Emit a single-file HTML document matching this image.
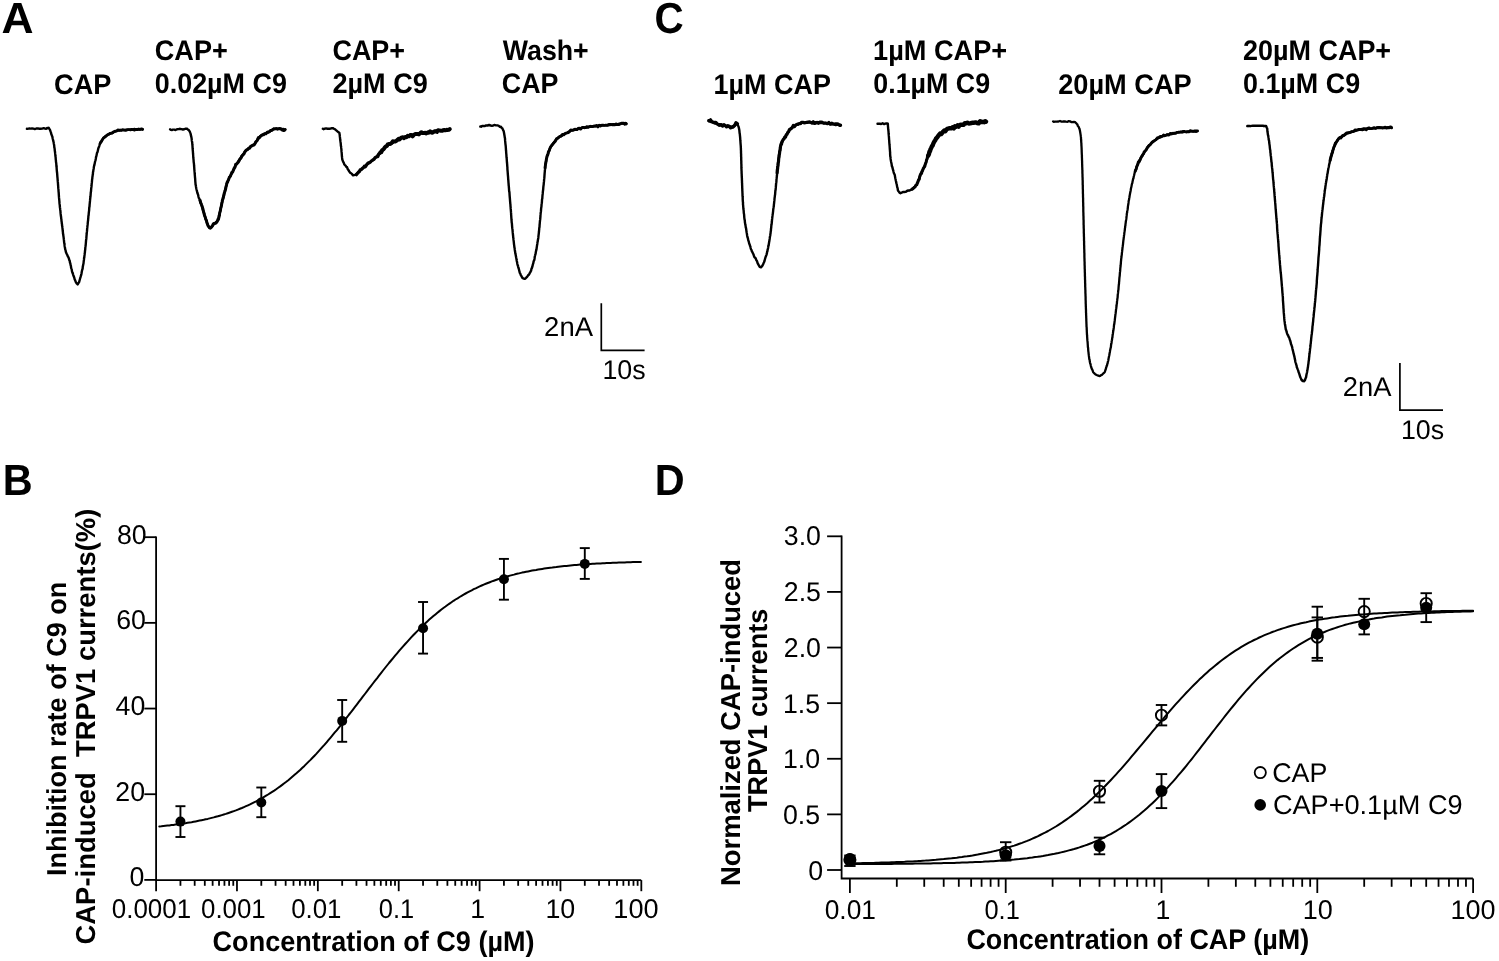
<!DOCTYPE html><html><head><meta charset="utf-8"><title>figure</title><style>
html,body{margin:0;padding:0;background:#fff;overflow:hidden;}
svg{display:block;will-change:transform;}
text{font-family:"Liberation Sans",sans-serif;fill:#000;text-rendering:geometricPrecision;}
</style></head><body>
<svg width="1499" height="961" viewBox="0 0 1499 961">
<rect width="1499" height="961" fill="#fff"/>
<polyline points="26.9,128.8 27.6,128.9 28.5,128.7 29.5,128.5 30.7,128.6 32.0,128.4 33.4,128.7 34.8,129.1 36.3,128.5 37.8,128.4 39.3,128.7 40.8,128.7 42.2,128.6 43.6,128.2 44.9,128.5 46.1,128.7 47.1,128.0 48.0,128.3 48.7,127.8 49.2,128.6 49.8,129.4 50.6,131.7 50.9,132.3 51.2,133.7 51.6,134.7 51.9,135.8 52.3,136.4 52.6,138.3 53.0,139.8 53.3,141.2 53.6,142.1 53.8,143.5 54.0,144.5 54.2,145.6 54.3,147.3 54.5,147.9 54.7,149.4 54.8,150.9 55.0,151.7 55.1,153.2 55.3,154.6 55.4,156.0 55.6,157.1 55.7,158.6 55.8,160.0 55.9,160.2 56.0,162.1 56.2,163.0 56.3,164.0 56.4,166.0 56.5,166.8 56.6,167.4 56.7,169.1 56.8,170.5 56.9,171.5 57.1,173.0 57.2,174.1 57.3,175.6 57.4,177.1 57.5,177.7 57.6,179.3 57.7,180.3 57.8,181.7 57.9,182.5 58.0,184.0 58.1,185.4 58.2,187.0 58.3,188.4 58.4,188.9 58.5,190.4 58.6,192.1 58.7,192.6 58.8,194.4 58.9,195.8 59.0,197.4 59.1,198.5 59.2,199.4 59.3,200.5 59.4,201.7 59.5,203.4 59.6,204.2 59.8,205.7 59.9,207.2 60.1,208.4 60.2,209.7 60.4,210.7 60.5,212.3 60.6,213.4 60.8,215.1 60.9,216.1 61.1,217.1 61.2,218.5 61.4,219.4 61.5,221.0 61.7,222.0 61.8,223.4 62.0,224.2 62.1,225.9 62.3,226.5 62.4,227.7 62.6,229.4 62.7,230.5 62.9,232.0 63.0,233.8 63.2,234.0 63.3,235.3 63.5,236.7 63.7,238.1 63.8,239.2 64.0,240.6 64.1,242.1 64.3,243.4 64.5,244.2 64.6,245.7 64.8,247.0 65.0,247.8 65.2,249.4 65.5,250.1 65.9,252.1 66.4,253.2 66.9,254.3 67.4,255.3 67.9,256.6 68.4,257.2 68.9,258.7 69.4,260.4 69.7,260.8 70.0,262.8 70.3,263.2 70.6,265.1 70.9,265.9 71.1,267.6 71.4,268.6 71.7,269.3 72.0,271.4 72.4,272.6 72.8,273.4 73.2,274.8 73.7,276.3 74.2,277.5 74.7,279.5 75.2,280.4 75.7,281.8 76.1,282.5 76.6,283.4 77.0,283.6 77.7,284.4 78.4,283.2 79.1,282.1 79.7,280.0 80.3,277.8 80.6,276.9 80.9,275.8 81.2,274.9 81.5,273.5 81.7,272.3 82.0,270.6 82.3,269.5 82.6,268.8 82.8,266.7 83.1,265.2 83.3,264.3 83.5,263.5 83.7,261.5 83.8,260.7 84.0,259.4 84.1,257.9 84.3,257.5 84.4,256.1 84.6,254.9 84.7,253.4 84.9,252.5 85.0,250.9 85.2,249.7 85.3,248.1 85.4,246.9 85.5,246.5 85.7,244.8 85.8,243.8 85.9,242.5 86.0,241.1 86.1,239.9 86.3,238.9 86.4,237.4 86.5,236.1 86.6,234.9 86.7,234.0 86.8,232.6 87.0,231.2 87.1,229.7 87.2,228.2 87.3,227.7 87.4,226.4 87.6,224.9 87.7,223.8 87.8,222.7 87.9,221.5 88.1,220.3 88.2,218.6 88.3,218.0 88.4,215.9 88.6,215.3 88.7,214.0 88.8,212.9 88.9,211.9 89.1,210.6 89.2,208.6 89.3,207.2 89.5,206.7 89.6,204.9 89.7,203.9 89.8,202.9 90.0,200.9 90.1,199.5 90.2,199.0 90.3,197.6 90.5,196.3 90.6,195.2 90.7,193.7 90.8,192.2 91.0,191.4 91.1,190.0 91.2,188.6 91.3,187.9 91.5,186.4 91.6,185.2 91.7,183.5 91.9,182.2 92.0,180.8 92.1,179.6 92.3,178.6 92.4,177.0 92.6,176.1 92.7,174.9 92.9,174.2 93.0,172.0 93.2,171.6 93.4,169.9 93.7,168.5 93.9,166.8 94.1,165.9 94.4,165.0 94.7,163.5 94.9,162.4 95.2,161.1 95.5,160.3 95.8,158.7 96.1,156.8 96.4,156.1 96.7,154.5 97.0,152.9 97.3,152.5 97.6,151.8 98.0,150.1 98.3,148.5 98.7,147.4 99.0,146.9 99.4,145.6 99.7,144.5 100.1,143.6 100.7,142.2 101.4,141.3 102.1,140.1 102.8,139.1 103.5,137.9 104.2,137.6 105.0,136.5 106.1,136.1 107.3,134.7 108.6,134.4 109.8,133.9 111.0,132.9 112.1,133.2 113.2,132.6 114.3,131.5 115.5,131.4 116.9,130.9 117.9,129.8 119.0,130.5 120.1,130.3 121.2,130.2 122.5,129.8 123.8,129.9 125.3,129.8 126.8,130.2 127.9,129.8 129.1,129.7 130.4,130.1 131.7,129.4 133.2,129.4 134.6,128.9 136.0,129.9 137.4,129.7 138.7,129.6 139.9,129.5 141.0,129.3 141.9,129.3 142.6,129.1" fill="none" stroke="#000" stroke-width="2.4" stroke-linejoin="round" stroke-linecap="round"/>
<polyline points="100.1,143.5 100.7,142.2 101.4,141.5 102.1,140.1 102.8,139.0 103.5,138.0 104.2,137.3 105.0,137.2 106.1,135.9 107.3,135.1 108.6,134.3 109.8,133.5 111.0,133.3 112.1,133.0 113.2,132.0 114.3,131.6 115.5,131.1 116.9,130.8 117.9,130.1 119.0,130.4 120.1,130.0 121.2,130.4 122.5,129.8 123.8,130.2 125.3,130.4 126.8,129.7 127.9,129.6 129.1,129.7 130.4,129.6 131.7,129.3 133.2,129.7 134.6,130.1 136.0,129.3 137.4,129.3 138.7,129.0 139.9,129.4 141.0,128.9 141.9,128.9 142.6,129.6" fill="none" stroke="#000" stroke-width="2.8" stroke-linejoin="round" stroke-linecap="round"/>
<polyline points="170.1,129.3 170.8,129.9 171.8,130.0 172.9,129.6 174.2,129.6 175.6,130.0 177.0,129.3 178.5,129.1 180.1,128.8 181.5,129.1 182.9,129.5 184.2,129.3 185.3,128.7 186.3,128.7 187.0,128.7 187.8,129.5 188.8,130.1 189.8,131.7 190.1,132.5 190.5,133.3 190.7,134.4 191.0,135.6 191.3,136.8 191.6,138.4 191.8,140.4 191.9,141.0 192.1,141.9 192.2,142.5 192.3,144.3 192.4,144.8 192.5,146.3 192.6,148.2 192.7,149.5 192.8,150.6 192.9,151.5 193.0,153.2 193.1,154.4 193.2,156.0 193.3,157.7 193.4,158.4 193.5,159.3 193.6,160.5 193.7,162.1 193.9,163.3 194.0,164.3 194.1,166.0 194.2,166.9 194.3,168.8 194.4,170.0 194.5,171.2 194.6,172.1 194.7,173.7 194.8,174.8 194.9,176.0 195.0,177.3 195.1,178.2 195.2,179.5 195.3,181.3 195.4,182.3 195.5,183.5 195.6,184.9 195.8,185.2 196.0,186.9 196.3,188.5 196.6,189.8 196.9,190.8 197.2,192.4 197.5,193.3 197.8,194.0 198.2,195.2 198.5,196.8 198.9,198.0 199.3,198.5 199.8,200.6 200.2,201.6 200.6,202.9 201.1,203.6 201.5,204.7 201.9,205.7 202.3,207.9 202.6,208.3 202.9,209.9 203.2,210.4 203.5,211.8 203.8,212.4 204.2,214.1 204.6,215.8 205.0,216.3 205.4,218.3 205.9,219.6 206.4,220.7 206.9,222.3 207.4,223.7 207.9,225.1 208.4,226.1 208.9,226.9 209.4,227.6 210.4,227.6 211.3,226.8 212.3,226.0 213.2,224.9 214.1,223.1 215.2,222.8 216.2,222.1 217.2,221.1 218.2,219.9 218.5,218.6 218.8,218.2 219.1,216.4 219.4,215.5 219.6,214.0 219.9,212.5 220.2,211.5 220.4,209.9 220.7,208.8 221.0,207.2 221.2,205.6 221.5,204.7 221.8,203.4 222.1,202.4 222.4,200.5 222.8,199.5 223.1,197.7 223.4,197.2 223.7,195.4 224.0,194.0 224.3,193.4 224.6,192.6 224.9,190.7 225.3,189.5 225.6,188.3 225.9,186.9 226.2,186.2 226.5,184.7 226.8,183.7 227.2,183.0 227.6,181.5 228.1,180.6 228.7,179.0 229.3,177.8 229.9,176.4 230.5,176.4 231.1,174.6 231.7,173.7 232.3,172.4 232.8,171.3 233.3,170.1 233.9,169.6 234.5,167.5 235.1,166.2 235.7,165.2 236.3,164.1 237.0,163.7 237.7,162.6 238.4,161.1 239.1,159.9 239.8,159.2 240.5,158.7 241.2,156.5 242.0,156.3 242.7,154.8 243.4,154.3 244.1,152.6 244.9,151.8 245.7,150.4 246.6,149.6 247.5,149.5 248.5,148.6 249.6,147.5 250.6,146.6 251.7,145.6 252.8,145.3 253.8,144.6 254.7,143.8 255.6,142.8 256.4,141.3 257.1,140.5 257.7,139.4 258.4,138.7 259.2,137.9 260.1,136.4 261.1,135.4 262.3,134.9 263.5,134.2 264.7,133.6 265.9,133.3 267.1,132.5 268.2,132.5 269.4,131.6 270.4,131.0 271.5,130.2 272.5,129.5 273.7,128.9 275.0,128.8 276.2,128.6 277.5,128.9 279.0,128.9 280.5,128.6 281.9,129.2 283.2,129.0 284.3,129.3 285.1,129.5" fill="none" stroke="#000" stroke-width="2.4" stroke-linejoin="round" stroke-linecap="round"/>
<polyline points="200.2,200.5 200.6,202.6 201.1,203.7 201.5,204.8 201.9,205.8 202.3,207.0 202.6,207.9 202.9,209.3 203.2,210.3 203.5,211.8 203.8,212.4 204.2,214.3 204.6,215.6 205.0,216.6 205.4,217.8 205.9,219.7 206.4,220.2 206.9,222.7 207.4,224.0 207.9,225.3 208.4,226.4 208.9,226.8 209.4,227.6 210.4,228.2 211.3,227.4 212.3,226.1 213.2,224.0 214.1,223.8 215.2,223.4 216.2,222.7 217.2,221.5 218.2,218.9 218.5,219.2 218.8,217.7 219.1,215.5 219.4,215.6 219.6,213.4 219.9,212.2 220.2,211.1 220.4,210.5 220.7,208.4 221.0,207.4 221.2,206.7 221.5,205.4 221.8,203.4 222.1,202.0 222.4,200.2 222.8,199.2 223.1,198.4 223.4,197.2 223.7,195.8 224.0,195.0 224.3,193.0 224.6,192.2 224.9,191.5 225.3,190.1 225.6,189.0 225.9,187.5 226.2,186.0 226.5,185.1 226.8,183.4 227.2,182.1 227.6,182.0 228.1,180.4 228.7,179.4 229.3,177.4 229.9,176.8 230.5,175.6 231.1,174.4 231.7,172.6 232.3,172.3 232.8,171.7 233.3,170.3 233.9,168.7 234.5,167.8 235.1,167.0 235.7,164.3 236.3,164.4 237.0,163.7 237.7,162.7 238.4,162.1 239.1,160.8 239.8,159.4 240.5,158.4 241.2,157.7 242.0,155.9 242.7,155.1 243.4,154.4 244.1,153.8 244.9,151.8 245.7,150.9 246.6,150.0 247.5,149.7 248.5,148.3 249.6,148.2 250.6,146.4 251.7,146.0 252.8,145.3 253.8,145.0 254.7,144.3 255.6,142.1 256.4,141.3 257.1,140.7 257.7,139.1 258.4,137.6 259.2,137.8 260.1,136.6 261.1,135.9 262.3,134.8 263.5,134.8 264.7,133.7 265.9,133.8 267.1,132.4 268.2,131.9 269.4,131.7 270.4,130.6 271.5,130.6 272.5,129.8 273.7,128.8 275.0,128.9 276.2,128.6 277.5,129.2 279.0,128.6 280.5,128.8 281.9,129.8 283.2,130.4 284.3,130.4 285.1,129.6" fill="none" stroke="#000" stroke-width="3.0" stroke-linejoin="round" stroke-linecap="round"/>
<polyline points="322.8,128.8 323.6,129.2 324.8,128.7 326.1,128.4 327.6,128.7 329.2,128.8 330.7,128.5 332.0,128.2 333.2,128.3 334.0,128.9 334.8,129.1 336.0,130.2 337.4,131.4 338.6,132.4 339.4,132.8 339.5,133.9 339.7,134.7 339.8,136.2 340.0,137.6 340.2,139.8 340.4,141.0 340.5,141.9 340.7,143.2 340.8,144.4 340.9,145.9 341.1,146.5 341.2,147.9 341.4,149.3 341.5,151.4 341.6,152.1 341.7,153.0 341.8,154.6 341.9,156.2 342.0,156.8 342.1,157.9 342.3,159.5 342.6,160.3 343.1,161.7 343.6,162.4 344.2,164.2 344.9,165.1 345.6,165.7 346.3,166.8 347.0,167.1 347.7,169.1 348.4,170.0 349.2,171.3 349.9,172.4 350.6,172.9 351.8,173.9 353.1,175.4 354.8,174.9 355.6,174.6 356.4,173.9 357.3,173.2 358.2,171.8 359.2,171.9 360.2,170.6 361.3,169.9 362.3,169.1 363.4,167.6 364.3,166.3 365.3,165.8 366.3,164.9 367.3,164.3 368.3,163.7 369.4,162.3 370.4,162.2 371.4,160.8 372.3,160.6 373.2,159.8 374.0,159.0 375.1,158.1 376.1,157.0 377.0,156.0 377.9,154.8 378.7,154.5 379.5,154.1 380.4,153.3 381.3,152.2 382.1,151.1 382.9,149.8 383.8,149.5 384.7,148.1 385.7,147.2 386.8,146.2 387.7,145.7 388.6,144.9 389.6,144.3 390.6,143.3 391.7,142.9 392.8,143.0 393.9,141.7 395.1,141.0 396.3,140.6 397.5,140.1 398.5,139.1 399.6,138.9 400.7,138.8 401.8,138.2 403.0,137.7 404.1,137.7 405.3,136.7 406.5,136.5 407.7,136.0 408.9,136.2 410.2,134.8 411.4,134.9 412.6,134.7 413.8,134.8 415.1,134.5 416.3,134.5 417.6,133.4 418.9,133.9 420.2,133.4 421.5,133.1 422.8,133.2 424.0,132.6 425.2,132.1 426.3,132.5 427.4,132.0 428.8,132.0 430.1,132.1 431.3,131.9 432.5,132.1 433.6,131.4 434.7,130.8 435.8,130.9 436.9,130.7 438.1,130.4 439.4,130.8 440.9,130.3 442.4,129.8 443.9,130.4 445.3,130.1 446.7,130.1 448.0,129.9 449.0,130.0 449.8,129.7" fill="none" stroke="#000" stroke-width="2.4" stroke-linejoin="round" stroke-linecap="round"/>
<polyline points="356.4,174.7 357.3,173.6 358.2,172.7 359.2,171.7 360.2,169.8 361.3,169.4 362.3,168.4 363.4,167.7 364.3,166.2 365.3,166.9 366.3,165.3 367.3,163.9 368.3,162.8 369.4,162.7 370.4,162.0 371.4,160.9 372.3,160.6 373.2,159.5 374.0,159.4 375.1,157.7 376.1,157.1 377.0,156.7 377.9,156.6 378.7,154.0 379.5,153.4" fill="none" stroke="#000" stroke-width="3.2" stroke-linejoin="round" stroke-linecap="round"/>
<polyline points="380.4,152.2 381.3,152.3 382.1,150.2 382.9,149.7 383.8,149.0 384.7,147.5 385.7,146.6 386.8,146.0 387.7,144.4 388.6,144.1 389.6,144.1 390.6,143.8 391.7,142.9 392.8,141.3 393.9,141.4 395.1,141.6 396.3,140.8 397.5,139.9 398.5,138.9 399.6,139.4 400.7,138.2 401.8,137.4 403.0,137.2 404.1,138.1 405.3,137.0 406.5,137.2 407.7,135.8 408.9,136.3 410.2,135.1 411.4,135.0 412.6,136.3 413.8,135.0 415.1,134.0 416.3,134.0 417.6,134.1 418.9,134.4 420.2,133.2 421.5,132.2 422.8,132.9 424.0,132.9 425.2,132.8 426.3,133.4 427.4,132.6 428.8,132.7 430.1,131.3 431.3,132.3 432.5,132.8 433.6,131.9 434.7,131.4 435.8,131.2 436.9,132.0 438.1,130.2 439.4,130.6 440.9,130.8 442.4,130.8 443.9,130.0 445.3,130.3 446.7,129.8 448.0,129.9 449.0,129.7 449.8,129.0" fill="none" stroke="#000" stroke-width="4.0" stroke-linejoin="round" stroke-linecap="round"/>
<polyline points="480.3,126.5 481.1,126.7 482.1,126.0 483.3,126.0 484.6,126.1 486.1,125.4 487.6,125.5 489.1,125.0 490.6,125.5 492.0,125.7 493.2,125.6 494.3,124.9 496.0,125.4 497.5,125.4 498.8,125.8 499.9,126.8 500.9,126.6 501.8,128.1 502.5,128.6 503.0,129.9 503.4,130.4 503.7,131.3 504.0,132.8 504.3,134.5 504.6,136.2 504.7,137.2 504.9,137.9 505.0,138.4 505.1,140.4 505.2,141.5 505.3,142.5 505.4,143.6 505.6,145.2 505.7,146.0 505.8,147.2 505.9,148.7 506.0,150.5 506.1,151.0 506.2,153.1 506.3,153.9 506.4,155.1 506.5,157.2 506.6,157.9 506.7,158.7 506.8,160.2 506.9,161.7 507.0,163.0 507.1,163.7 507.2,165.2 507.3,166.6 507.4,167.4 507.4,168.9 507.5,170.1 507.6,171.2 507.7,172.4 507.8,173.8 507.9,175.1 508.0,176.1 508.1,177.4 508.2,179.1 508.3,180.0 508.4,181.4 508.5,182.8 508.6,183.9 508.7,185.6 508.8,186.0 508.9,187.7 509.0,188.6 509.1,190.5 509.2,191.7 509.4,191.9 509.5,193.4 509.6,195.1 509.7,196.4 509.8,197.6 509.9,198.6 510.0,200.0 510.1,201.3 510.2,202.3 510.3,203.9 510.4,204.2 510.5,206.3 510.6,207.0 510.7,208.9 510.8,209.7 510.9,210.8 511.0,212.4 511.1,213.2 511.1,214.5 511.2,215.5 511.3,217.2 511.4,218.6 511.5,220.0 511.6,220.9 511.7,222.6 511.9,223.5 512.0,224.8 512.1,226.3 512.2,227.6 512.3,228.4 512.5,229.6 512.6,230.9 512.7,232.2 512.8,233.2 513.0,235.0 513.1,235.8 513.2,237.4 513.4,238.2 513.5,239.9 513.7,241.1 513.8,242.1 514.0,244.1 514.1,244.8 514.3,246.4 514.4,247.3 514.6,248.0 514.7,249.2 514.9,250.5 515.1,251.8 515.3,253.3 515.6,254.6 515.8,255.5 516.1,257.3 516.3,258.1 516.6,260.1 516.8,261.1 517.1,262.3 517.3,263.7 517.6,265.0 517.9,265.6 518.1,266.6 518.4,267.8 518.7,268.5 519.2,270.5 519.8,272.9 520.3,273.6 520.9,275.5 521.5,276.1 522.1,277.5 522.7,278.0 523.4,278.5 524.2,278.7 525.2,278.8 526.2,277.7 527.1,276.8 528.1,275.3 529.1,274.5 529.9,272.8 530.3,272.3 530.7,271.2 531.1,270.7 531.5,268.6 531.9,268.0 532.2,267.2 532.6,265.6 532.9,264.3 533.3,263.2 533.6,261.5 534.0,260.6 534.3,260.0 534.6,258.2 534.8,256.5 535.1,255.5 535.3,254.6 535.6,253.9 535.8,252.2 536.0,251.1 536.2,250.5 536.5,249.3 536.7,247.7 536.9,246.3 537.1,244.9 537.3,243.9 537.5,242.1 537.7,241.7 537.9,239.9 538.1,238.9 538.3,237.9 538.4,236.6 538.6,234.8 538.7,234.3 538.8,233.2 539.0,231.5 539.1,230.2 539.2,229.3 539.3,227.6 539.5,227.3 539.6,224.9 539.7,224.0 539.8,223.0 539.9,221.7 540.0,220.6 540.2,219.4 540.3,217.9 540.4,217.1 540.5,214.8 540.6,214.2 540.7,212.7 540.9,211.7 541.0,210.5 541.1,208.9 541.2,207.8 541.4,207.0 541.5,205.6 541.6,204.0 541.7,203.5 541.9,202.3 542.0,199.9 542.1,199.1 542.3,198.5 542.4,196.7 542.5,195.3 542.7,193.9 542.8,192.5 542.9,191.4 543.1,190.0 543.2,189.2 543.3,187.6 543.4,186.5 543.6,185.1 543.7,184.3 543.8,182.9 543.9,182.1 544.0,181.4 544.1,179.7 544.3,178.2 544.4,176.8 544.5,175.3 544.6,173.9 544.7,172.6 544.8,171.7 544.9,169.9 545.0,169.4 545.1,167.9 545.2,166.5 545.3,165.5 545.5,164.3 545.6,163.5 545.8,162.2 546.1,161.3 546.4,159.4 546.7,157.6 547.0,156.8 547.3,155.1 547.7,154.5 548.1,153.7 548.4,152.5 548.8,150.9 549.2,150.0 549.6,149.8 550.2,148.0 550.8,146.7 551.4,146.0 552.0,145.4 552.7,144.1 553.5,142.8 554.3,141.9 555.1,141.1 555.8,139.9 556.6,138.9 557.5,138.4 558.4,137.3 559.4,136.8 560.5,136.1 561.7,136.0 562.7,134.5 563.7,134.2 564.8,133.6 565.9,133.2 567.1,132.9 568.3,131.9 569.5,131.3 570.8,130.5 572.1,130.3 573.4,130.3 574.8,129.7 575.9,129.1 577.0,129.0 578.1,128.8 579.3,128.7 580.5,128.1 581.7,128.0 582.9,127.3 584.1,127.3 585.4,127.9 586.6,126.6 587.9,127.0 589.2,126.9 590.4,126.6 591.7,126.3 592.9,126.3 594.1,126.2 595.4,126.0 596.6,125.3 597.9,125.7 599.2,125.4 600.5,125.3 601.8,125.4 603.0,125.4 604.3,125.4 605.6,124.9 606.8,125.2 608.0,125.2 609.2,125.0 610.4,125.0 611.8,124.4 613.2,124.3 614.6,124.5 616.0,123.8 617.4,124.1 618.8,123.8 620.2,123.8 621.5,123.3 622.7,123.5 623.8,123.7 624.8,123.9 625.6,123.8 626.3,123.5" fill="none" stroke="#000" stroke-width="2.4" stroke-linejoin="round" stroke-linecap="round"/>
<polyline points="545.1,167.8 545.2,166.4 545.3,165.8 545.5,164.4 545.6,163.7 545.8,163.1 546.1,161.0 546.4,159.0 546.7,157.9 547.0,156.4 547.3,155.3 547.7,155.1 548.1,153.5 548.4,151.7 548.8,151.5 549.2,150.8 549.6,149.2 550.2,147.7 550.8,146.6 551.4,145.8 552.0,144.9 552.7,144.2 553.5,143.3 554.3,142.3 555.1,141.5 555.8,140.3 556.6,138.6 557.5,138.4 558.4,137.8 559.4,136.7 560.5,136.4 561.7,135.2 562.7,134.4 563.7,134.8 564.8,133.9 565.9,133.2 567.1,132.9 568.3,132.5 569.5,131.7 570.8,130.0 572.1,130.3 573.4,129.9 574.8,129.3 575.9,129.5 577.0,129.6 578.1,128.6 579.3,128.1 580.5,129.1 581.7,127.9 582.9,127.4 584.1,127.7 585.4,127.6 586.6,127.0 587.9,127.4 589.2,126.7 590.4,126.3 591.7,126.6 592.9,126.6 594.1,125.9 595.4,126.2 596.6,125.8 597.9,126.9 599.2,125.3 600.5,126.0 601.8,125.3 603.0,125.2 604.3,125.4 605.6,125.4 606.8,125.4 608.0,124.9 609.2,124.5 610.4,124.4 611.8,124.7 613.2,124.6 614.6,124.8 616.0,124.3 617.4,124.5 618.8,124.6 620.2,124.0 621.5,123.2 622.7,123.3 623.8,123.1 624.8,124.2 625.6,123.2 626.3,124.0" fill="none" stroke="#000" stroke-width="2.9" stroke-linejoin="round" stroke-linecap="round"/>
<polyline points="708.8,120.8 709.5,121.4 710.5,121.7 711.7,121.8 713.0,122.4 714.4,123.1 715.8,123.7 717.2,124.0 718.4,124.6 719.5,125.5 721.1,124.9 722.6,125.7 723.9,125.4 725.2,125.8 726.5,126.2 727.9,126.2 729.2,126.9 730.6,126.5 731.7,127.6 732.7,127.1 733.9,126.1 734.8,124.7 736.0,123.5 737.4,124.3 738.6,126.7 738.8,127.8 739.0,128.3 739.1,129.2 739.3,129.8 739.5,131.8 739.6,133.1 739.8,133.8 739.9,135.1 740.0,136.0 740.2,138.2 740.3,140.2 740.4,141.1 740.5,142.8 740.6,144.1 740.7,145.1 740.8,146.8 740.8,147.1 740.9,148.5 740.9,149.7 741.0,151.0 741.0,152.0 741.0,153.1 741.1,153.9 741.1,154.9 741.1,156.4 741.2,157.4 741.2,158.4 741.2,159.7 741.3,161.1 741.3,162.0 741.3,163.4 741.4,164.6 741.4,166.5 741.4,167.9 741.5,169.7 741.5,170.1 741.6,171.7 741.6,173.3 741.7,174.0 741.7,175.1 741.8,176.9 741.8,177.5 741.9,178.4 741.9,179.6 742.0,181.4 742.0,182.6 742.1,183.4 742.1,184.8 742.2,186.5 742.2,187.8 742.3,188.8 742.3,190.4 742.4,191.7 742.4,192.3 742.5,194.0 742.5,195.5 742.6,196.5 742.7,197.3 742.7,199.1 742.8,200.6 742.9,202.1 743.0,202.1 743.0,204.7 743.1,204.8 743.2,206.5 743.3,207.7 743.4,209.0 743.6,210.1 743.7,211.1 743.8,213.0 744.0,213.9 744.1,214.7 744.3,217.6 744.4,218.3 744.6,219.8 744.8,220.3 744.9,222.2 745.1,223.4 745.3,224.6 745.5,225.3 745.6,226.1 745.8,227.5 746.0,228.0 746.2,229.2 746.4,230.8 746.5,231.5 746.7,232.8 746.9,233.8 747.2,236.0 747.5,237.3 747.9,238.3 748.2,240.1 748.5,240.8 748.9,242.1 749.2,243.7 749.6,244.2 749.9,245.6 750.3,246.3 750.6,247.8 751.0,249.2 751.3,249.5 751.8,251.2 752.4,252.2 752.9,253.2 753.4,254.2 754.0,256.0 754.5,257.3 755.1,257.7 755.7,258.4 756.3,260.1 757.0,261.2 757.6,263.1 758.3,264.4 759.0,265.7 759.7,266.9 760.3,267.1 761.0,267.3 761.5,266.6 762.0,266.4 762.5,265.3 763.0,264.7 763.5,263.3 764.0,262.3 764.5,261.0 765.0,259.0 765.4,257.7 765.9,256.2 766.3,255.3 766.6,254.6 766.9,253.3 767.1,251.9 767.4,251.3 767.7,249.3 767.9,249.0 768.2,247.2 768.4,245.4 768.6,245.8 768.8,244.2 769.1,242.2 769.3,241.3 769.5,239.9 769.7,238.7 769.9,237.0 770.1,236.0 770.3,235.2 770.4,233.9 770.6,233.0 770.7,231.5 770.9,230.9 771.0,228.8 771.2,227.8 771.3,225.9 771.5,224.8 771.6,224.3 771.8,222.3 771.9,221.5 772.0,220.0 772.2,218.4 772.3,217.3 772.5,215.9 772.6,214.8 772.8,214.0 772.9,212.8 773.1,211.3 773.2,210.0 773.3,209.2 773.5,207.9 773.6,207.0 773.8,206.3 773.9,204.6 774.1,203.1 774.2,201.9 774.4,200.4 774.5,199.2 774.6,197.9 774.8,196.8 774.9,195.5 775.1,194.6 775.2,193.0 775.3,191.9 775.4,190.4 775.6,190.1 775.7,188.6 775.8,187.7 775.9,186.2 776.0,185.1 776.1,183.4 776.3,182.4 776.4,181.7 776.5,179.3 776.6,178.7 776.7,177.6 776.9,176.0 777.0,174.9 777.1,173.8 777.2,172.0 777.3,171.2 777.4,169.6 777.6,168.6 777.7,167.5 777.8,166.6 778.0,165.2 778.1,163.9 778.3,161.9 778.5,161.5 778.6,159.9 778.8,158.4 779.0,156.8 779.1,155.6 779.3,154.6 779.5,153.3 779.7,151.5 779.8,151.2 780.0,150.8 780.2,148.3 780.3,148.3 780.5,147.2 780.9,145.2 781.2,144.4 781.5,142.7 781.9,142.3 782.4,141.8 783.1,140.0 783.6,139.0 784.2,138.2 784.8,136.9 785.5,136.4 786.3,134.4 787.0,133.8 787.8,132.0 788.6,131.6 789.4,130.3 790.2,128.7 791.2,128.5 792.3,127.3 793.3,126.7 794.4,126.5 795.6,125.1 796.7,124.5 797.9,124.7 799.1,123.8 800.3,123.9 801.5,123.2 802.8,122.6 804.1,122.7 805.4,122.9 806.8,122.8 808.2,122.4 809.7,122.4 810.8,122.4 812.0,122.2 813.2,123.1 814.5,122.5 815.7,122.3 817.0,122.6 818.3,123.0 819.7,123.1 821.0,123.0 822.4,123.0 823.8,123.3 825.0,122.9 826.2,123.1 827.5,123.9 828.9,123.6 830.3,124.0 831.7,124.4 833.1,124.4 834.4,124.4 835.7,125.1 836.9,124.8 838.1,124.6 839.1,125.1 839.9,125.1 840.6,124.7" fill="none" stroke="#000" stroke-width="2.4" stroke-linejoin="round" stroke-linecap="round"/>
<polyline points="708.8,120.7 709.5,120.8 710.5,119.9 711.7,121.7 713.0,122.2 714.4,122.7 715.8,122.4 717.2,123.9 718.4,124.6 719.5,125.1 721.1,124.6 722.6,126.0 723.9,124.8 725.2,125.6 726.5,126.8 727.9,125.7 729.2,126.3 730.6,127.8 731.7,127.0 732.7,127.1 733.9,126.1 734.8,125.4 736.0,122.7 737.4,123.9" fill="none" stroke="#000" stroke-width="3.4" stroke-linejoin="round" stroke-linecap="round"/>
<polyline points="777.1,172.8 777.2,171.5 777.3,170.5 777.4,169.4 777.6,168.9 777.7,167.1 777.8,166.7 778.0,165.4 778.1,163.3 778.3,162.4 778.5,161.9 778.6,159.8 778.8,157.8 779.0,156.9 779.1,155.1 779.3,154.6 779.5,153.7 779.7,151.5 779.8,150.8 780.0,150.6 780.2,148.6 780.3,148.1 780.5,146.5 780.9,144.7 781.2,143.7 781.5,144.3 781.9,142.0 782.4,141.0 783.1,139.8 783.6,139.1 784.2,138.5 784.8,137.1 785.5,137.1 786.3,134.8 787.0,134.4 787.8,132.6 788.6,131.7 789.4,129.5 790.2,129.4 791.2,128.5 792.3,127.5 793.3,125.5 794.4,126.6 795.6,125.2 796.7,124.5 797.9,124.1 799.1,123.7 800.3,123.6 801.5,122.3 802.8,122.3 804.1,122.9 805.4,122.7 806.8,122.3 808.2,122.1 809.7,121.9 810.8,122.4 812.0,123.1 813.2,121.8 814.5,123.4 815.7,123.1 817.0,122.4 818.3,123.3 819.7,122.1 821.0,122.0 822.4,122.4 823.8,123.1 825.0,123.2 826.2,123.2 827.5,123.7 828.9,122.5 830.3,124.2 831.7,123.2 833.1,123.8 834.4,124.1 835.7,123.8 836.9,123.8 838.1,124.1 839.1,124.8 839.9,125.3 840.6,125.3" fill="none" stroke="#000" stroke-width="3.2" stroke-linejoin="round" stroke-linecap="round"/>
<polyline points="877.5,123.7 878.4,123.7 879.6,123.6 881.1,124.0 882.6,123.2 884.2,124.1 885.7,123.5 886.9,123.4 887.8,123.7 887.9,124.6 887.9,125.3 888.0,126.6 888.1,127.6 888.2,129.2 888.4,130.6 888.5,131.6 888.6,133.5 888.7,134.4 888.8,135.7 888.9,136.6 889.0,138.1 889.1,139.8 889.2,140.5 889.3,142.5 889.4,143.7 889.5,145.0 889.6,145.6 889.7,147.5 889.8,149.0 889.9,149.9 890.0,151.5 890.1,152.0 890.1,154.2 890.2,155.0 890.3,156.6 890.5,157.0 890.6,158.9 890.8,160.1 891.1,161.8 891.3,162.7 891.6,164.1 891.9,166.3 892.2,166.6 892.5,167.9 892.9,169.3 893.2,170.3 893.6,172.1 894.0,173.4 894.4,173.9 894.8,175.1 895.1,177.1 895.3,178.3 895.6,179.5 895.9,181.0 896.1,181.7 896.4,183.3 896.7,184.2 896.9,185.4 897.2,187.1 897.6,188.2 897.9,190.4 898.3,190.9 898.8,191.6 899.5,192.6 900.5,193.2 901.6,192.7 902.9,191.9 904.3,192.0 905.6,191.9 906.9,191.0 908.3,190.5 909.6,190.6 910.9,189.8 912.1,188.8 913.2,188.2 914.1,187.3 915.0,186.6 915.9,185.4 916.8,184.3 917.3,183.3 917.8,181.6 918.2,181.0 918.7,180.0 919.2,178.6 919.6,177.6 920.1,175.9 920.5,174.5 921.0,174.0 921.5,172.2 922.1,170.7 922.6,170.5 923.2,168.8 923.7,167.8 924.3,166.3 924.8,165.2 925.3,164.0 925.7,163.0 926.1,162.0 926.5,160.0 926.9,159.6 927.3,157.8 927.7,156.5 928.1,155.8 928.5,154.3 929.0,152.6 929.5,152.4 930.0,150.4 930.5,149.5 931.1,148.3 931.6,147.4 932.2,145.7 932.7,145.1 933.2,143.5 933.7,143.1 934.5,141.1 935.2,140.1 936.0,139.7 936.7,138.3 937.4,137.2 938.3,136.7 939.1,135.1 940.1,133.7 941.2,133.1 942.1,131.8 943.1,131.8 944.2,131.0 945.3,129.8 946.5,129.1 947.7,128.8 948.8,128.3 950.0,127.6 951.3,127.8 952.5,126.7 953.8,126.9 955.0,126.6 956.2,126.3 957.5,126.1 958.7,125.2 959.9,125.3 961.1,124.6 962.4,124.1 963.7,123.6 964.9,123.4 966.1,123.8 967.4,123.2 968.7,123.5 970.0,123.7 971.5,123.6 973.0,123.6 974.2,122.9 975.6,122.5 977.1,123.0 978.6,122.6 980.1,122.7 981.6,122.2 983.0,122.4 984.3,122.2 985.3,122.0 986.1,121.9" fill="none" stroke="#000" stroke-width="2.4" stroke-linejoin="round" stroke-linecap="round"/>
<polyline points="912.1,189.3 913.2,188.5 914.1,187.6 915.0,187.0 915.9,185.1 916.8,184.9 917.3,183.0 917.8,182.5 918.2,180.9 918.7,179.6 919.2,179.5 919.6,177.1 920.1,175.4 920.5,174.5 921.0,173.5 921.5,173.6 922.1,171.4 922.6,170.7 923.2,168.6 923.7,168.1 924.3,167.1 924.8,166.5 925.3,164.0 925.7,163.4 926.1,162.1 926.5,160.2 926.9,159.4 927.3,158.0 927.7,155.7 928.1,155.9 928.5,154.6 929.0,152.9 929.5,151.2 930.0,151.4" fill="none" stroke="#000" stroke-width="3.0" stroke-linejoin="round" stroke-linecap="round"/>
<polyline points="928.1,155.7 928.5,154.9 929.0,153.9 929.5,151.6 930.0,151.1 930.5,149.3 931.1,148.2 931.6,147.0 932.2,145.9 932.7,145.4 933.2,143.8 933.7,142.7 934.5,141.2 935.2,140.4 936.0,138.6 936.7,137.9 937.4,137.2 938.3,135.7 939.1,134.9 940.1,133.6 941.2,134.1 942.1,133.0 943.1,131.7 944.2,130.6 945.3,131.3 946.5,129.5 947.7,128.6 948.8,128.5 950.0,128.1 951.3,128.4 952.5,127.3 953.8,128.3 955.0,126.2 956.2,126.8 957.5,125.4 958.7,126.6 959.9,124.9 961.1,124.7 962.4,124.9 963.7,124.8 964.9,123.1 966.1,123.4 967.4,122.7 968.7,123.5 970.0,123.3 971.5,123.0 973.0,122.7 974.2,122.7 975.6,122.4 977.1,123.0 978.6,123.4 980.1,121.2 981.6,122.1 983.0,121.8 984.3,122.2 985.3,121.2 986.1,121.6" fill="none" stroke="#000" stroke-width="4.4" stroke-linejoin="round" stroke-linecap="round"/>
<polyline points="1053.1,121.4 1053.8,121.9 1054.8,121.7 1055.9,121.6 1057.1,121.7 1058.5,121.5 1060.0,121.0 1061.5,121.6 1063.0,121.5 1064.5,121.3 1066.0,121.7 1067.5,121.8 1068.8,121.1 1070.1,121.3 1071.2,122.0 1072.1,122.1 1073.9,121.9 1075.1,122.2 1076.0,123.0 1076.7,123.8 1077.3,124.4 1077.9,126.0 1078.4,126.5 1078.9,127.3 1079.3,128.7 1079.6,129.2 1079.9,130.5 1080.2,132.2 1080.5,134.1 1080.8,136.1 1080.9,137.0 1081.0,137.6 1081.0,139.3 1081.1,139.9 1081.2,140.3 1081.2,141.6 1081.3,142.8 1081.4,143.7 1081.4,145.2 1081.5,146.2 1081.5,146.7 1081.6,148.0 1081.6,148.9 1081.7,150.6 1081.7,151.8 1081.8,153.9 1081.8,154.4 1081.9,155.1 1081.9,157.0 1082.0,158.7 1082.0,159.8 1082.1,161.4 1082.1,163.2 1082.2,165.0 1082.2,166.5 1082.3,168.0 1082.3,169.5 1082.4,170.1 1082.4,171.1 1082.4,171.8 1082.4,173.0 1082.5,174.5 1082.5,174.9 1082.5,176.5 1082.6,177.8 1082.6,178.6 1082.6,179.9 1082.7,180.7 1082.7,182.6 1082.7,183.7 1082.7,184.7 1082.8,185.3 1082.8,186.7 1082.8,188.5 1082.9,190.0 1082.9,190.8 1082.9,192.4 1082.9,193.1 1083.0,194.5 1083.0,195.8 1083.0,197.2 1083.1,197.9 1083.1,200.0 1083.1,201.4 1083.1,201.9 1083.2,203.2 1083.2,205.0 1083.2,206.0 1083.3,206.8 1083.3,209.0 1083.3,210.1 1083.3,211.3 1083.4,213.3 1083.4,214.0 1083.4,215.1 1083.5,216.6 1083.5,217.5 1083.5,218.9 1083.6,220.5 1083.6,221.5 1083.6,222.8 1083.6,224.6 1083.7,225.6 1083.7,226.8 1083.7,228.0 1083.8,229.2 1083.8,230.7 1083.8,231.5 1083.8,233.3 1083.9,233.7 1083.9,235.1 1083.9,236.0 1084.0,237.5 1084.0,239.0 1084.0,240.5 1084.1,241.1 1084.1,242.6 1084.1,243.7 1084.1,244.8 1084.2,245.9 1084.2,247.5 1084.2,248.2 1084.3,250.0 1084.3,251.2 1084.3,252.3 1084.4,253.4 1084.4,254.5 1084.4,256.7 1084.4,257.0 1084.5,259.1 1084.5,260.0 1084.5,261.0 1084.6,262.0 1084.6,263.8 1084.6,265.3 1084.7,265.7 1084.7,267.1 1084.7,268.7 1084.8,269.7 1084.8,271.4 1084.8,271.9 1084.9,273.4 1084.9,274.0 1084.9,276.2 1085.0,276.6 1085.0,277.3 1085.0,279.1 1085.1,280.3 1085.1,282.1 1085.1,282.6 1085.2,283.8 1085.2,285.2 1085.2,286.8 1085.3,287.6 1085.3,289.2 1085.4,290.4 1085.4,291.4 1085.4,292.8 1085.5,294.1 1085.5,295.2 1085.6,297.1 1085.6,297.7 1085.6,299.7 1085.7,301.0 1085.7,302.0 1085.7,303.1 1085.8,304.6 1085.8,306.1 1085.9,307.5 1085.9,308.6 1086.0,310.1 1086.0,310.9 1086.0,312.5 1086.1,313.2 1086.1,315.1 1086.2,316.2 1086.2,317.3 1086.3,319.0 1086.3,320.1 1086.3,320.2 1086.4,322.3 1086.4,323.0 1086.5,324.9 1086.5,326.5 1086.6,326.8 1086.7,328.1 1086.7,329.1 1086.8,330.4 1086.8,331.5 1086.9,332.8 1086.9,333.1 1087.0,334.9 1087.1,335.2 1087.1,336.5 1087.2,337.7 1087.3,339.3 1087.4,340.4 1087.6,342.1 1087.7,343.7 1087.8,345.3 1087.9,347.1 1088.1,347.8 1088.2,349.7 1088.3,351.1 1088.5,352.4 1088.6,353.6 1088.8,355.1 1088.9,356.0 1089.1,357.3 1089.2,358.3 1089.4,359.7 1089.6,359.7 1089.8,361.6 1089.9,362.1 1090.1,363.1 1090.3,363.8 1090.6,364.4 1090.8,365.7 1091.0,366.4 1091.7,368.7 1092.4,369.9 1093.2,372.2 1094.0,373.0 1094.9,373.9 1095.7,374.5 1096.6,375.0 1097.5,375.3 1098.3,375.7 1099.2,376.0 1100.2,375.8 1101.1,375.1 1102.0,374.8 1103.0,373.8 1103.9,372.9 1104.8,371.9 1105.6,369.7 1105.9,368.6 1106.2,367.4 1106.5,366.7 1106.7,365.7 1107.0,365.5 1107.3,364.0 1107.6,363.3 1107.8,362.0 1108.1,361.1 1108.3,360.3 1108.6,358.5 1108.8,357.4 1109.1,356.0 1109.3,355.2 1109.6,353.3 1109.9,351.9 1110.1,350.4 1110.4,349.0 1110.6,348.1 1110.9,347.2 1111.1,344.6 1111.4,343.6 1111.6,342.4 1111.7,341.0 1111.9,340.2 1112.1,339.1 1112.2,337.9 1112.4,337.6 1112.6,335.3 1112.7,334.9 1112.9,333.7 1113.1,332.2 1113.2,331.3 1113.4,330.3 1113.6,328.8 1113.8,327.7 1113.9,326.5 1114.1,324.4 1114.3,324.2 1114.4,323.2 1114.6,321.5 1114.8,320.2 1115.0,318.2 1115.1,317.3 1115.3,315.8 1115.4,314.6 1115.6,313.7 1115.8,311.9 1115.9,310.8 1116.1,309.0 1116.3,308.2 1116.4,307.0 1116.6,305.5 1116.7,304.2 1116.9,303.8 1117.0,301.6 1117.2,300.4 1117.3,299.3 1117.4,298.6 1117.6,297.7 1117.7,295.9 1117.8,294.4 1118.0,293.2 1118.1,292.4 1118.2,290.6 1118.4,290.1 1118.5,288.8 1118.6,287.1 1118.7,286.1 1118.8,284.8 1119.0,283.8 1119.1,281.8 1119.2,281.2 1119.3,279.5 1119.4,278.1 1119.5,277.1 1119.7,275.8 1119.8,274.3 1119.9,272.9 1120.0,271.9 1120.1,271.4 1120.2,270.3 1120.3,268.7 1120.4,267.7 1120.6,266.0 1120.7,264.9 1120.8,263.8 1120.9,262.3 1121.0,261.1 1121.1,260.3 1121.2,259.0 1121.4,257.7 1121.5,257.0 1121.6,255.7 1121.8,254.8 1121.9,253.1 1122.1,251.7 1122.2,250.5 1122.4,249.1 1122.5,247.7 1122.7,246.5 1122.8,245.6 1123.0,244.3 1123.1,243.2 1123.3,241.1 1123.4,240.3 1123.6,239.1 1123.7,238.0 1123.9,236.7 1124.0,235.5 1124.2,234.7 1124.3,233.3 1124.5,231.8 1124.6,231.3 1124.8,230.1 1124.9,228.5 1125.1,227.8 1125.2,226.2 1125.4,225.6 1125.5,224.1 1125.7,222.8 1125.8,221.8 1126.0,220.6 1126.2,219.5 1126.4,218.2 1126.5,216.8 1126.7,215.4 1126.9,213.1 1127.1,213.0 1127.2,211.1 1127.4,210.5 1127.6,209.5 1127.8,208.0 1127.9,206.6 1128.1,205.4 1128.3,204.2 1128.5,202.9 1128.6,201.7 1128.8,200.4 1129.0,199.9 1129.2,198.3 1129.4,197.5 1129.6,196.0 1129.8,194.9 1130.0,193.8 1130.2,192.8 1130.4,191.8 1130.7,190.4 1130.9,188.8 1131.2,187.5 1131.4,186.9 1131.7,185.1 1132.0,183.8 1132.3,183.1 1132.5,181.8 1132.8,180.4 1133.1,178.9 1133.4,178.6 1133.7,176.8 1134.0,175.7 1134.3,174.4 1134.6,173.0 1134.9,171.9 1135.2,171.4 1135.6,170.4 1135.9,169.2 1136.2,167.9 1136.7,166.4 1137.2,165.4 1137.8,163.8 1138.3,163.3 1138.9,162.2 1139.5,161.6 1140.0,159.9 1140.6,158.4 1141.2,157.3 1141.8,155.6 1142.4,155.4 1142.9,154.6 1143.5,154.0 1144.2,152.7 1144.9,151.5 1145.6,150.3 1146.2,149.4 1146.9,148.6 1147.6,146.8 1148.3,146.1 1149.1,144.9 1149.9,144.9 1150.8,143.9 1151.7,142.9 1152.6,141.6 1153.6,141.2 1154.6,140.4 1155.7,139.8 1156.7,139.0 1157.8,138.6 1159.0,137.7 1160.1,137.5 1161.3,136.8 1162.5,136.1 1163.6,135.7 1164.7,135.2 1165.8,135.3 1166.9,134.6 1168.1,134.5 1169.3,134.0 1170.5,133.4 1171.7,133.9 1173.0,133.0 1174.3,133.3 1175.7,133.0 1177.1,132.2 1178.2,132.3 1179.4,132.3 1180.6,132.0 1181.9,131.8 1183.3,132.2 1184.7,131.8 1186.1,131.9 1187.5,131.6 1188.9,131.7 1190.3,131.3 1191.6,131.4 1192.8,131.5 1194.0,131.3 1195.0,131.0 1196.0,130.8 1196.8,131.1 1197.5,131.1" fill="none" stroke="#000" stroke-width="2.3" stroke-linejoin="round" stroke-linecap="round"/>
<polyline points="1135.2,171.2 1135.6,169.9 1135.9,169.5 1136.2,169.3 1136.7,166.8 1137.2,165.7 1137.8,164.4 1138.3,162.0 1138.9,161.9 1139.5,160.4 1140.0,160.2 1140.6,158.5 1141.2,157.3 1141.8,156.5 1142.4,155.7 1142.9,154.4 1143.5,153.7 1144.2,151.9 1144.9,151.2 1145.6,150.5 1146.2,150.0 1146.9,148.4 1147.6,147.3 1148.3,146.7 1149.1,145.7 1149.9,145.0 1150.8,143.9 1151.7,142.7 1152.6,142.0 1153.6,141.3 1154.6,140.6 1155.7,139.9 1156.7,138.8 1157.8,137.6 1159.0,137.6 1160.1,136.4 1161.3,136.7 1162.5,136.2 1163.6,135.1 1164.7,135.7 1165.8,135.4 1166.9,134.7 1168.1,135.0 1169.3,134.8 1170.5,133.4 1171.7,134.0 1173.0,133.5 1174.3,133.3 1175.7,133.3 1177.1,132.4 1178.2,132.3 1179.4,132.1 1180.6,132.0 1181.9,132.1 1183.3,131.4 1184.7,131.5 1186.1,132.0 1187.5,131.7 1188.9,131.7 1190.3,130.7 1191.6,131.1 1192.8,131.1 1194.0,131.3 1195.0,130.9 1196.0,131.5 1196.8,131.0 1197.5,131.0" fill="none" stroke="#000" stroke-width="2.9" stroke-linejoin="round" stroke-linecap="round"/>
<polyline points="1247.3,126.0 1248.0,126.2 1249.0,125.8 1250.2,126.2 1251.5,125.9 1252.9,125.7 1254.3,125.6 1255.9,125.7 1257.4,125.8 1258.9,125.7 1260.4,125.6 1261.7,125.8 1262.9,125.7 1264.0,126.2 1264.8,126.0 1266.1,126.0 1266.8,127.8 1267.2,128.4 1267.3,129.3 1267.4,131.2 1267.7,133.0 1267.9,134.8 1268.0,135.2 1268.2,135.5 1268.4,137.2 1268.6,138.0 1268.7,139.8 1268.9,140.0 1269.1,140.8 1269.2,142.8 1269.4,143.9 1269.6,145.2 1269.7,146.0 1269.9,148.1 1270.1,149.9 1270.3,150.2 1270.4,152.6 1270.6,153.5 1270.7,155.4 1270.8,155.9 1271.0,156.8 1271.1,158.3 1271.2,159.3 1271.3,160.1 1271.4,161.6 1271.6,162.4 1271.7,163.2 1271.8,165.6 1271.9,166.1 1272.0,167.2 1272.2,168.7 1272.3,169.4 1272.4,170.7 1272.5,172.3 1272.7,173.5 1272.8,175.0 1272.9,176.6 1273.0,177.5 1273.1,179.1 1273.3,180.4 1273.4,181.2 1273.5,183.0 1273.6,183.7 1273.7,185.4 1273.8,186.4 1273.9,187.4 1274.0,188.1 1274.1,189.7 1274.2,190.6 1274.3,192.2 1274.4,193.2 1274.5,194.2 1274.6,195.9 1274.7,197.0 1274.8,197.8 1274.9,199.5 1275.0,200.3 1275.1,201.5 1275.2,202.9 1275.3,203.9 1275.4,205.2 1275.5,206.5 1275.6,208.3 1275.7,209.5 1275.8,210.2 1275.9,212.0 1276.0,212.8 1276.1,214.2 1276.2,215.6 1276.3,216.6 1276.4,218.5 1276.5,219.1 1276.6,219.8 1276.7,221.8 1276.8,222.4 1276.9,223.7 1277.0,224.1 1277.1,226.5 1277.1,227.7 1277.2,228.9 1277.3,230.2 1277.4,231.7 1277.5,232.4 1277.6,233.9 1277.7,234.7 1277.8,236.0 1277.9,237.7 1278.0,238.7 1278.1,239.5 1278.2,241.2 1278.3,242.3 1278.4,243.3 1278.5,244.9 1278.5,245.9 1278.6,246.8 1278.7,248.2 1278.8,250.2 1278.9,250.5 1279.0,252.2 1279.1,253.5 1279.2,254.7 1279.3,255.3 1279.4,256.9 1279.5,258.2 1279.6,259.7 1279.7,260.5 1279.8,261.6 1279.9,263.4 1280.0,264.7 1280.1,265.7 1280.2,266.6 1280.3,268.1 1280.4,269.2 1280.5,270.6 1280.6,271.2 1280.7,272.8 1280.9,273.9 1281.0,274.8 1281.1,276.4 1281.2,277.6 1281.3,278.6 1281.4,280.1 1281.5,280.7 1281.6,282.3 1281.7,283.6 1281.8,284.8 1281.9,286.2 1282.0,286.7 1282.1,287.8 1282.2,289.6 1282.3,290.8 1282.4,292.6 1282.5,293.3 1282.6,294.1 1282.7,295.9 1282.8,296.7 1282.9,297.8 1282.9,300.3 1283.0,300.9 1283.1,302.4 1283.2,303.6 1283.3,305.3 1283.4,306.1 1283.4,307.7 1283.5,308.3 1283.6,309.5 1283.7,311.6 1283.8,312.9 1283.9,313.9 1284.0,315.0 1284.1,316.2 1284.2,317.1 1284.3,318.9 1284.4,319.8 1284.5,320.9 1284.7,321.9 1284.8,323.1 1284.9,324.0 1285.1,325.0 1285.2,325.3 1285.5,327.5 1285.8,329.5 1286.2,330.1 1286.5,331.4 1286.9,332.9 1287.3,334.0 1287.7,334.9 1288.1,335.2 1288.5,336.8 1289.0,337.2 1289.4,338.3 1289.8,339.8 1290.2,340.6 1290.6,342.1 1291.0,344.1 1291.3,344.5 1291.6,345.6 1291.9,346.2 1292.2,347.4 1292.4,348.5 1292.7,349.9 1293.0,350.9 1293.3,352.3 1293.6,353.7 1293.9,354.7 1294.2,355.9 1294.5,357.1 1294.8,358.9 1295.1,360.0 1295.3,361.5 1295.6,362.6 1295.9,363.3 1296.2,364.7 1296.5,365.1 1296.8,367.2 1297.3,368.3 1297.7,369.4 1298.2,370.6 1298.7,372.5 1299.1,373.3 1299.6,374.9 1300.1,376.7 1300.5,377.6 1301.0,378.5 1301.4,379.8 1301.9,379.9 1302.3,380.9 1302.7,381.0 1303.3,381.0 1303.9,381.3 1304.4,380.4 1304.9,380.4 1305.5,378.4 1306.0,377.5 1306.5,374.5 1307.0,372.5 1307.2,371.2 1307.3,370.3 1307.5,369.9 1307.6,369.1 1307.8,367.5 1307.9,367.3 1308.1,365.6 1308.2,364.8 1308.4,363.8 1308.5,362.7 1308.7,360.8 1308.8,360.6 1309.0,359.0 1309.1,357.5 1309.3,356.0 1309.4,354.5 1309.6,353.3 1309.7,352.5 1309.9,350.9 1310.0,349.3 1310.2,348.1 1310.3,347.4 1310.5,345.5 1310.6,344.0 1310.8,343.2 1310.9,341.5 1311.1,340.0 1311.2,338.5 1311.4,336.8 1311.5,335.8 1311.6,334.9 1311.8,333.9 1311.9,332.9 1312.0,331.8 1312.2,330.5 1312.3,329.3 1312.4,327.8 1312.5,326.2 1312.7,325.5 1312.8,324.1 1312.9,323.0 1313.1,321.8 1313.2,320.3 1313.3,319.1 1313.4,318.1 1313.6,316.9 1313.7,315.4 1313.8,314.5 1313.9,313.0 1314.1,311.5 1314.2,310.6 1314.3,309.9 1314.4,307.9 1314.6,307.2 1314.7,306.0 1314.8,304.8 1314.9,302.8 1315.0,302.5 1315.2,300.7 1315.3,299.4 1315.4,298.2 1315.5,297.2 1315.6,295.9 1315.7,294.7 1315.8,294.0 1315.9,292.1 1316.0,290.7 1316.1,289.9 1316.2,288.6 1316.4,287.5 1316.5,285.6 1316.6,285.0 1316.7,283.6 1316.8,282.7 1316.8,280.6 1316.9,279.8 1317.0,278.4 1317.1,276.8 1317.2,275.9 1317.3,275.2 1317.4,273.5 1317.5,272.3 1317.6,271.6 1317.6,270.4 1317.7,269.2 1317.8,267.5 1317.9,266.5 1318.0,265.6 1318.1,263.9 1318.2,262.7 1318.2,262.0 1318.3,261.0 1318.4,259.0 1318.5,257.4 1318.6,256.5 1318.7,255.4 1318.8,254.4 1318.9,253.4 1319.0,252.0 1319.1,250.6 1319.2,249.6 1319.2,248.0 1319.3,247.1 1319.4,245.7 1319.5,245.4 1319.6,243.6 1319.7,241.9 1319.8,240.6 1319.8,239.5 1319.9,237.9 1320.0,237.0 1320.1,235.7 1320.2,235.0 1320.3,233.4 1320.4,232.0 1320.5,230.6 1320.6,229.5 1320.6,228.6 1320.7,227.3 1320.8,226.5 1320.9,224.8 1321.0,224.1 1321.2,222.6 1321.3,221.3 1321.4,219.6 1321.5,218.6 1321.6,218.0 1321.7,217.0 1321.9,215.3 1322.0,214.2 1322.1,212.6 1322.3,211.4 1322.4,210.0 1322.6,209.2 1322.7,207.7 1322.9,206.3 1323.0,205.0 1323.2,204.0 1323.3,202.7 1323.5,201.1 1323.6,200.6 1323.8,198.9 1323.9,197.6 1324.1,196.8 1324.3,195.5 1324.4,193.9 1324.6,192.9 1324.7,191.3 1324.9,190.3 1325.1,188.6 1325.2,188.6 1325.4,186.5 1325.5,186.2 1325.7,184.7 1325.8,183.6 1326.0,182.8 1326.2,181.5 1326.5,180.1 1326.7,179.0 1326.9,177.2 1327.1,176.0 1327.3,174.3 1327.6,173.4 1327.8,172.0 1328.0,170.6 1328.2,169.5 1328.4,168.3 1328.7,167.2 1328.9,166.2 1329.1,164.8 1329.4,163.6 1329.6,163.0 1329.9,161.1 1330.1,160.4 1330.4,160.0 1330.7,157.3 1331.1,156.6 1331.4,155.7 1331.8,153.7 1332.1,153.7 1332.5,150.8 1332.8,150.8 1333.2,149.7 1333.6,148.3 1334.0,146.9 1334.4,146.0 1334.8,144.6 1335.3,144.1 1335.7,142.6 1336.2,142.0 1337.0,141.1 1337.9,139.4 1338.8,138.7 1339.7,138.1 1340.7,136.9 1341.7,137.0 1342.7,136.1 1343.8,135.0 1344.9,134.8 1345.9,134.0 1347.0,133.5 1348.0,133.2 1349.1,132.5 1350.2,132.6 1351.4,131.7 1352.6,131.8 1353.8,131.1 1355.2,131.0 1356.6,130.2 1357.7,130.0 1358.8,129.6 1360.0,129.9 1361.2,129.8 1362.4,130.0 1363.7,129.6 1365.0,129.1 1366.3,128.8 1367.6,128.8 1368.9,128.6 1370.2,128.9 1371.5,128.6 1372.8,128.0 1374.1,127.9 1375.4,128.4 1376.8,128.0 1378.2,127.8 1379.6,128.1 1381.1,127.6 1382.5,127.6 1383.9,127.5 1385.3,127.0 1386.6,127.9 1387.9,127.2 1389.0,127.4 1390.0,127.3 1390.9,127.7 1391.6,127.5" fill="none" stroke="#000" stroke-width="2.4" stroke-linejoin="round" stroke-linecap="round"/>
<polyline points="1330.1,160.6 1330.4,158.8 1330.7,158.1 1331.1,156.2 1331.4,155.6 1331.8,154.3 1332.1,152.9 1332.5,152.4 1332.8,150.6 1333.2,149.4 1333.6,148.1 1334.0,146.9 1334.4,146.2 1334.8,145.3 1335.3,143.3 1335.7,143.4 1336.2,142.3 1337.0,141.2 1337.9,139.9 1338.8,138.3 1339.7,137.5 1340.7,138.0 1341.7,136.7 1342.7,135.5 1343.8,135.6 1344.9,134.7 1345.9,133.5 1347.0,132.8 1348.0,132.6 1349.1,132.8 1350.2,132.3 1351.4,131.8 1352.6,131.6 1353.8,131.3 1355.2,129.9 1356.6,130.3 1357.7,129.8 1358.8,129.5 1360.0,129.5 1361.2,129.5 1362.4,129.2 1363.7,128.6 1365.0,128.8 1366.3,129.7 1367.6,128.3 1368.9,127.9 1370.2,128.6 1371.5,128.6 1372.8,128.4 1374.1,127.7 1375.4,128.4 1376.8,127.6 1378.2,127.4 1379.6,127.5 1381.1,127.7 1382.5,128.0 1383.9,127.9 1385.3,127.6 1386.6,128.0 1387.9,127.6 1389.0,127.9 1390.0,127.0 1390.9,126.9 1391.6,127.8" fill="none" stroke="#000" stroke-width="2.9" stroke-linejoin="round" stroke-linecap="round"/>
<polyline points="601.3,303.3 601.3,350.3 644.6,350.3" fill="none" stroke="#000" stroke-width="1.7"/>
<polyline points="1399.9,363.1 1399.9,410.2 1443.0,410.2" fill="none" stroke="#000" stroke-width="1.7"/>
<polyline points="156.1,536.5 156.1,880.1 641.2,880.1" fill="none" stroke="#000" stroke-width="1.8"/>
<line x1="144.30" y1="879.90" x2="156.10" y2="879.90" stroke="#000" stroke-width="1.8"/>
<line x1="144.30" y1="794.22" x2="156.10" y2="794.22" stroke="#000" stroke-width="1.8"/>
<line x1="144.30" y1="708.54" x2="156.10" y2="708.54" stroke="#000" stroke-width="1.8"/>
<line x1="144.30" y1="622.86" x2="156.10" y2="622.86" stroke="#000" stroke-width="1.8"/>
<line x1="144.30" y1="537.18" x2="156.10" y2="537.18" stroke="#000" stroke-width="1.8"/>
<line x1="156.10" y1="880.10" x2="156.10" y2="891.20" stroke="#000" stroke-width="1.8"/>
<line x1="180.44" y1="880.10" x2="180.44" y2="885.80" stroke="#000" stroke-width="1.8"/>
<line x1="194.68" y1="880.10" x2="194.68" y2="885.80" stroke="#000" stroke-width="1.8"/>
<line x1="204.79" y1="880.10" x2="204.79" y2="885.80" stroke="#000" stroke-width="1.8"/>
<line x1="212.63" y1="880.10" x2="212.63" y2="885.80" stroke="#000" stroke-width="1.8"/>
<line x1="219.03" y1="880.10" x2="219.03" y2="885.80" stroke="#000" stroke-width="1.8"/>
<line x1="224.44" y1="880.10" x2="224.44" y2="885.80" stroke="#000" stroke-width="1.8"/>
<line x1="229.13" y1="880.10" x2="229.13" y2="885.80" stroke="#000" stroke-width="1.8"/>
<line x1="233.27" y1="880.10" x2="233.27" y2="885.80" stroke="#000" stroke-width="1.8"/>
<line x1="236.97" y1="880.10" x2="236.97" y2="891.20" stroke="#000" stroke-width="1.8"/>
<line x1="261.31" y1="880.10" x2="261.31" y2="885.80" stroke="#000" stroke-width="1.8"/>
<line x1="275.55" y1="880.10" x2="275.55" y2="885.80" stroke="#000" stroke-width="1.8"/>
<line x1="285.66" y1="880.10" x2="285.66" y2="885.80" stroke="#000" stroke-width="1.8"/>
<line x1="293.50" y1="880.10" x2="293.50" y2="885.80" stroke="#000" stroke-width="1.8"/>
<line x1="299.90" y1="880.10" x2="299.90" y2="885.80" stroke="#000" stroke-width="1.8"/>
<line x1="305.31" y1="880.10" x2="305.31" y2="885.80" stroke="#000" stroke-width="1.8"/>
<line x1="310.00" y1="880.10" x2="310.00" y2="885.80" stroke="#000" stroke-width="1.8"/>
<line x1="314.14" y1="880.10" x2="314.14" y2="885.80" stroke="#000" stroke-width="1.8"/>
<line x1="317.84" y1="880.10" x2="317.84" y2="891.20" stroke="#000" stroke-width="1.8"/>
<line x1="342.18" y1="880.10" x2="342.18" y2="885.80" stroke="#000" stroke-width="1.8"/>
<line x1="356.42" y1="880.10" x2="356.42" y2="885.80" stroke="#000" stroke-width="1.8"/>
<line x1="366.53" y1="880.10" x2="366.53" y2="885.80" stroke="#000" stroke-width="1.8"/>
<line x1="374.37" y1="880.10" x2="374.37" y2="885.80" stroke="#000" stroke-width="1.8"/>
<line x1="380.77" y1="880.10" x2="380.77" y2="885.80" stroke="#000" stroke-width="1.8"/>
<line x1="386.18" y1="880.10" x2="386.18" y2="885.80" stroke="#000" stroke-width="1.8"/>
<line x1="390.87" y1="880.10" x2="390.87" y2="885.80" stroke="#000" stroke-width="1.8"/>
<line x1="395.01" y1="880.10" x2="395.01" y2="885.80" stroke="#000" stroke-width="1.8"/>
<line x1="398.71" y1="880.10" x2="398.71" y2="891.20" stroke="#000" stroke-width="1.8"/>
<line x1="423.05" y1="880.10" x2="423.05" y2="885.80" stroke="#000" stroke-width="1.8"/>
<line x1="437.29" y1="880.10" x2="437.29" y2="885.80" stroke="#000" stroke-width="1.8"/>
<line x1="447.40" y1="880.10" x2="447.40" y2="885.80" stroke="#000" stroke-width="1.8"/>
<line x1="455.24" y1="880.10" x2="455.24" y2="885.80" stroke="#000" stroke-width="1.8"/>
<line x1="461.64" y1="880.10" x2="461.64" y2="885.80" stroke="#000" stroke-width="1.8"/>
<line x1="467.05" y1="880.10" x2="467.05" y2="885.80" stroke="#000" stroke-width="1.8"/>
<line x1="471.74" y1="880.10" x2="471.74" y2="885.80" stroke="#000" stroke-width="1.8"/>
<line x1="475.88" y1="880.10" x2="475.88" y2="885.80" stroke="#000" stroke-width="1.8"/>
<line x1="479.58" y1="880.10" x2="479.58" y2="891.20" stroke="#000" stroke-width="1.8"/>
<line x1="503.92" y1="880.10" x2="503.92" y2="885.80" stroke="#000" stroke-width="1.8"/>
<line x1="518.16" y1="880.10" x2="518.16" y2="885.80" stroke="#000" stroke-width="1.8"/>
<line x1="528.27" y1="880.10" x2="528.27" y2="885.80" stroke="#000" stroke-width="1.8"/>
<line x1="536.11" y1="880.10" x2="536.11" y2="885.80" stroke="#000" stroke-width="1.8"/>
<line x1="542.51" y1="880.10" x2="542.51" y2="885.80" stroke="#000" stroke-width="1.8"/>
<line x1="547.92" y1="880.10" x2="547.92" y2="885.80" stroke="#000" stroke-width="1.8"/>
<line x1="552.61" y1="880.10" x2="552.61" y2="885.80" stroke="#000" stroke-width="1.8"/>
<line x1="556.75" y1="880.10" x2="556.75" y2="885.80" stroke="#000" stroke-width="1.8"/>
<line x1="560.45" y1="880.10" x2="560.45" y2="891.20" stroke="#000" stroke-width="1.8"/>
<line x1="584.79" y1="880.10" x2="584.79" y2="885.80" stroke="#000" stroke-width="1.8"/>
<line x1="599.03" y1="880.10" x2="599.03" y2="885.80" stroke="#000" stroke-width="1.8"/>
<line x1="609.14" y1="880.10" x2="609.14" y2="885.80" stroke="#000" stroke-width="1.8"/>
<line x1="616.98" y1="880.10" x2="616.98" y2="885.80" stroke="#000" stroke-width="1.8"/>
<line x1="623.38" y1="880.10" x2="623.38" y2="885.80" stroke="#000" stroke-width="1.8"/>
<line x1="628.79" y1="880.10" x2="628.79" y2="885.80" stroke="#000" stroke-width="1.8"/>
<line x1="633.48" y1="880.10" x2="633.48" y2="885.80" stroke="#000" stroke-width="1.8"/>
<line x1="637.62" y1="880.10" x2="637.62" y2="885.80" stroke="#000" stroke-width="1.8"/>
<line x1="641.32" y1="880.10" x2="641.32" y2="891.20" stroke="#000" stroke-width="1.8"/>
<polyline points="159.3,826.5 161.3,826.3 163.4,826.0 165.4,825.8 167.4,825.6 169.4,825.4 171.4,825.1 173.4,824.9 175.5,824.6 177.5,824.4 179.5,824.1 181.5,823.8 183.5,823.5 185.5,823.2 187.5,822.8 189.6,822.5 191.6,822.2 193.6,821.8 195.6,821.4 197.6,821.0 199.6,820.6 201.6,820.2 203.7,819.8 205.7,819.3 207.7,818.9 209.7,818.4 211.7,817.9 213.7,817.4 215.8,816.8 217.8,816.3 219.8,815.7 221.8,815.1 223.8,814.5 225.8,813.9 227.8,813.2 229.9,812.5 231.9,811.8 233.9,811.1 235.9,810.4 237.9,809.6 239.9,808.8 241.9,808.0 244.0,807.1 246.0,806.2 248.0,805.3 250.0,804.4 252.0,803.4 254.0,802.4 256.1,801.4 258.1,800.3 260.1,799.2 262.1,798.1 264.1,796.9 266.1,795.7 268.1,794.5 270.2,793.2 272.2,791.9 274.2,790.6 276.2,789.2 278.2,787.8 280.2,786.4 282.2,784.9 284.3,783.3 286.3,781.8 288.3,780.2 290.3,778.5 292.3,776.8 294.3,775.1 296.4,773.3 298.4,771.5 300.4,769.7 302.4,767.8 304.4,765.9 306.4,763.9 308.4,761.9 310.5,759.9 312.5,757.8 314.5,755.7 316.5,753.6 318.5,751.4 320.5,749.2 322.5,746.9 324.6,744.6 326.6,742.3 328.6,739.9 330.6,737.6 332.6,735.2 334.6,732.7 336.7,730.3 338.7,727.8 340.7,725.3 342.7,722.7 344.7,720.2 346.7,717.6 348.7,715.0 350.8,712.4 352.8,709.8 354.8,707.2 356.8,704.6 358.8,701.9 360.8,699.3 362.8,696.7 364.9,694.0 366.9,691.4 368.9,688.7 370.9,686.1 372.9,683.5 374.9,680.9 377.0,678.3 379.0,675.7 381.0,673.1 383.0,670.5 385.0,668.0 387.0,665.5 389.0,663.0 391.1,660.5 393.1,658.1 395.1,655.6 397.1,653.3 399.1,650.9 401.1,648.6 403.1,646.3 405.2,644.0 407.2,641.8 409.2,639.6 411.2,637.4 413.2,635.3 415.2,633.2 417.3,631.1 419.3,629.1 421.3,627.1 423.3,625.2 425.3,623.3 427.3,621.4 429.3,619.6 431.4,617.8 433.4,616.1 435.4,614.4 437.4,612.7 439.4,611.1 441.4,609.5 443.4,608.0 445.5,606.5 447.5,605.0 449.5,603.6 451.5,602.2 453.5,600.8 455.5,599.5 457.6,598.3 459.6,597.0 461.6,595.8 463.6,594.6 465.6,593.5 467.6,592.4 469.6,591.3 471.7,590.3 473.7,589.2 475.7,588.3 477.7,587.3 479.7,586.4 481.7,585.5 483.7,584.6 485.8,583.8 487.8,583.0 489.8,582.2 491.8,581.4 493.8,580.7 495.8,580.0 497.9,579.3 499.9,578.6 501.9,578.0 503.9,577.4 505.9,576.8 507.9,576.2 509.9,575.6 512.0,575.1 514.0,574.6 516.0,574.0 518.0,573.6 520.0,573.1 522.0,572.6 524.0,572.2 526.1,571.8 528.1,571.4 530.1,571.0 532.1,570.6 534.1,570.2 536.1,569.9 538.2,569.5 540.2,569.2 542.2,568.9 544.2,568.6 546.2,568.3 548.2,568.0 550.2,567.7 552.3,567.5 554.3,567.2 556.3,567.0 558.3,566.7 560.3,566.5 562.3,566.3 564.3,566.1 566.4,565.9 568.4,565.7 570.4,565.5 572.4,565.3 574.4,565.1 576.4,565.0 578.5,564.8 580.5,564.6 582.5,564.5 584.5,564.4 586.5,564.2 588.5,564.1 590.5,564.0 592.6,563.8 594.6,563.7 596.6,563.6 598.6,563.5 600.6,563.4 602.6,563.3 604.6,563.2 606.7,563.1 608.7,563.0 610.7,562.9 612.7,562.8 614.7,562.7 616.7,562.7 618.8,562.6 620.8,562.5 622.8,562.4 624.8,562.4 626.8,562.3 628.8,562.2 630.8,562.2 632.9,562.1 634.9,562.1 636.9,562.0 638.9,562.0 640.9,561.9" fill="none" stroke="#000" stroke-width="2.0" stroke-linejoin="round" stroke-linecap="round"/>
<line x1="180.44" y1="806.20" x2="180.44" y2="837.00" stroke="#000" stroke-width="1.9"/>
<line x1="175.44" y1="806.20" x2="185.44" y2="806.20" stroke="#000" stroke-width="1.9"/>
<line x1="175.44" y1="837.00" x2="185.44" y2="837.00" stroke="#000" stroke-width="1.9"/>
<circle cx="180.44" cy="821.60" r="5" fill="#000"/>
<line x1="261.31" y1="787.50" x2="261.31" y2="817.20" stroke="#000" stroke-width="1.9"/>
<line x1="256.31" y1="787.50" x2="266.31" y2="787.50" stroke="#000" stroke-width="1.9"/>
<line x1="256.31" y1="817.20" x2="266.31" y2="817.20" stroke="#000" stroke-width="1.9"/>
<circle cx="261.31" cy="802.50" r="5" fill="#000"/>
<line x1="342.18" y1="700.00" x2="342.18" y2="741.80" stroke="#000" stroke-width="1.9"/>
<line x1="337.18" y1="700.00" x2="347.18" y2="700.00" stroke="#000" stroke-width="1.9"/>
<line x1="337.18" y1="741.80" x2="347.18" y2="741.80" stroke="#000" stroke-width="1.9"/>
<circle cx="342.18" cy="720.90" r="5" fill="#000"/>
<line x1="423.05" y1="602.00" x2="423.05" y2="653.60" stroke="#000" stroke-width="1.9"/>
<line x1="418.05" y1="602.00" x2="428.05" y2="602.00" stroke="#000" stroke-width="1.9"/>
<line x1="418.05" y1="653.60" x2="428.05" y2="653.60" stroke="#000" stroke-width="1.9"/>
<circle cx="423.05" cy="628.20" r="5" fill="#000"/>
<line x1="503.92" y1="558.90" x2="503.92" y2="599.70" stroke="#000" stroke-width="1.9"/>
<line x1="498.92" y1="558.90" x2="508.92" y2="558.90" stroke="#000" stroke-width="1.9"/>
<line x1="498.92" y1="599.70" x2="508.92" y2="599.70" stroke="#000" stroke-width="1.9"/>
<circle cx="503.92" cy="579.30" r="5" fill="#000"/>
<line x1="584.79" y1="548.10" x2="584.79" y2="578.90" stroke="#000" stroke-width="1.9"/>
<line x1="579.79" y1="548.10" x2="589.79" y2="548.10" stroke="#000" stroke-width="1.9"/>
<line x1="579.79" y1="578.90" x2="589.79" y2="578.90" stroke="#000" stroke-width="1.9"/>
<circle cx="584.79" cy="563.90" r="5" fill="#000"/>
<polyline points="841.6,535.6 841.6,878.5 1472.9,878.5" fill="none" stroke="#000" stroke-width="1.8"/>
<line x1="827.10" y1="870.00" x2="841.60" y2="870.00" stroke="#000" stroke-width="1.8"/>
<line x1="827.10" y1="814.38" x2="841.60" y2="814.38" stroke="#000" stroke-width="1.8"/>
<line x1="827.10" y1="758.77" x2="841.60" y2="758.77" stroke="#000" stroke-width="1.8"/>
<line x1="827.10" y1="703.15" x2="841.60" y2="703.15" stroke="#000" stroke-width="1.8"/>
<line x1="827.10" y1="647.54" x2="841.60" y2="647.54" stroke="#000" stroke-width="1.8"/>
<line x1="827.10" y1="591.92" x2="841.60" y2="591.92" stroke="#000" stroke-width="1.8"/>
<line x1="827.10" y1="536.31" x2="841.60" y2="536.31" stroke="#000" stroke-width="1.8"/>
<line x1="849.90" y1="878.50" x2="849.90" y2="893.00" stroke="#000" stroke-width="1.8"/>
<line x1="896.80" y1="878.50" x2="896.80" y2="886.80" stroke="#000" stroke-width="1.8"/>
<line x1="924.24" y1="878.50" x2="924.24" y2="886.80" stroke="#000" stroke-width="1.8"/>
<line x1="943.70" y1="878.50" x2="943.70" y2="886.80" stroke="#000" stroke-width="1.8"/>
<line x1="958.80" y1="878.50" x2="958.80" y2="886.80" stroke="#000" stroke-width="1.8"/>
<line x1="971.14" y1="878.50" x2="971.14" y2="886.80" stroke="#000" stroke-width="1.8"/>
<line x1="981.57" y1="878.50" x2="981.57" y2="886.80" stroke="#000" stroke-width="1.8"/>
<line x1="990.60" y1="878.50" x2="990.60" y2="886.80" stroke="#000" stroke-width="1.8"/>
<line x1="998.57" y1="878.50" x2="998.57" y2="886.80" stroke="#000" stroke-width="1.8"/>
<line x1="1005.70" y1="878.50" x2="1005.70" y2="893.00" stroke="#000" stroke-width="1.8"/>
<line x1="1052.60" y1="878.50" x2="1052.60" y2="886.80" stroke="#000" stroke-width="1.8"/>
<line x1="1080.04" y1="878.50" x2="1080.04" y2="886.80" stroke="#000" stroke-width="1.8"/>
<line x1="1099.50" y1="878.50" x2="1099.50" y2="886.80" stroke="#000" stroke-width="1.8"/>
<line x1="1114.60" y1="878.50" x2="1114.60" y2="886.80" stroke="#000" stroke-width="1.8"/>
<line x1="1126.94" y1="878.50" x2="1126.94" y2="886.80" stroke="#000" stroke-width="1.8"/>
<line x1="1137.37" y1="878.50" x2="1137.37" y2="886.80" stroke="#000" stroke-width="1.8"/>
<line x1="1146.40" y1="878.50" x2="1146.40" y2="886.80" stroke="#000" stroke-width="1.8"/>
<line x1="1154.37" y1="878.50" x2="1154.37" y2="886.80" stroke="#000" stroke-width="1.8"/>
<line x1="1161.50" y1="878.50" x2="1161.50" y2="893.00" stroke="#000" stroke-width="1.8"/>
<line x1="1208.40" y1="878.50" x2="1208.40" y2="886.80" stroke="#000" stroke-width="1.8"/>
<line x1="1235.84" y1="878.50" x2="1235.84" y2="886.80" stroke="#000" stroke-width="1.8"/>
<line x1="1255.30" y1="878.50" x2="1255.30" y2="886.80" stroke="#000" stroke-width="1.8"/>
<line x1="1270.40" y1="878.50" x2="1270.40" y2="886.80" stroke="#000" stroke-width="1.8"/>
<line x1="1282.74" y1="878.50" x2="1282.74" y2="886.80" stroke="#000" stroke-width="1.8"/>
<line x1="1293.17" y1="878.50" x2="1293.17" y2="886.80" stroke="#000" stroke-width="1.8"/>
<line x1="1302.20" y1="878.50" x2="1302.20" y2="886.80" stroke="#000" stroke-width="1.8"/>
<line x1="1310.17" y1="878.50" x2="1310.17" y2="886.80" stroke="#000" stroke-width="1.8"/>
<line x1="1317.30" y1="878.50" x2="1317.30" y2="893.00" stroke="#000" stroke-width="1.8"/>
<line x1="1364.20" y1="878.50" x2="1364.20" y2="886.80" stroke="#000" stroke-width="1.8"/>
<line x1="1391.64" y1="878.50" x2="1391.64" y2="886.80" stroke="#000" stroke-width="1.8"/>
<line x1="1411.10" y1="878.50" x2="1411.10" y2="886.80" stroke="#000" stroke-width="1.8"/>
<line x1="1426.20" y1="878.50" x2="1426.20" y2="886.80" stroke="#000" stroke-width="1.8"/>
<line x1="1438.54" y1="878.50" x2="1438.54" y2="886.80" stroke="#000" stroke-width="1.8"/>
<line x1="1448.97" y1="878.50" x2="1448.97" y2="886.80" stroke="#000" stroke-width="1.8"/>
<line x1="1458.00" y1="878.50" x2="1458.00" y2="886.80" stroke="#000" stroke-width="1.8"/>
<line x1="1465.97" y1="878.50" x2="1465.97" y2="886.80" stroke="#000" stroke-width="1.8"/>
<line x1="1473.10" y1="878.50" x2="1473.10" y2="893.00" stroke="#000" stroke-width="1.8"/>
<polyline points="849.9,863.4 852.5,863.3 855.1,863.3 857.7,863.2 860.3,863.2 862.9,863.1 865.5,863.1 868.2,863.0 870.8,862.9 873.4,862.9 876.0,862.8 878.6,862.7 881.2,862.6 883.8,862.6 886.4,862.5 889.0,862.4 891.6,862.3 894.2,862.2 896.8,862.1 899.4,862.0 902.1,861.9 904.7,861.8 907.3,861.6 909.9,861.5 912.5,861.4 915.1,861.2 917.7,861.1 920.3,860.9 922.9,860.7 925.5,860.6 928.1,860.4 930.7,860.2 933.3,860.0 935.9,859.8 938.6,859.5 941.2,859.3 943.8,859.1 946.4,858.8 949.0,858.5 951.6,858.3 954.2,858.0 956.8,857.7 959.4,857.3 962.0,857.0 964.6,856.6 967.2,856.3 969.8,855.9 972.5,855.5 975.1,855.0 977.7,854.6 980.3,854.1 982.9,853.6 985.5,853.1 988.1,852.5 990.7,852.0 993.3,851.4 995.9,850.8 998.5,850.1 1001.1,849.5 1003.7,848.8 1006.4,848.0 1009.0,847.2 1011.6,846.4 1014.2,845.6 1016.8,844.7 1019.4,843.8 1022.0,842.9 1024.6,841.9 1027.2,840.9 1029.8,839.8 1032.4,838.7 1035.0,837.5 1037.6,836.3 1040.2,835.0 1042.9,833.7 1045.5,832.4 1048.1,831.0 1050.7,829.5 1053.3,828.0 1055.9,826.5 1058.5,824.8 1061.1,823.2 1063.7,821.4 1066.3,819.6 1068.9,817.8 1071.5,815.9 1074.1,813.9 1076.8,811.9 1079.4,809.8 1082.0,807.6 1084.6,805.4 1087.2,803.2 1089.8,800.8 1092.4,798.5 1095.0,796.0 1097.6,793.5 1100.2,791.0 1102.8,788.4 1105.4,785.7 1108.0,783.0 1110.7,780.2 1113.3,777.4 1115.9,774.6 1118.5,771.7 1121.1,768.8 1123.7,765.8 1126.3,762.8 1128.9,759.8 1131.5,756.7 1134.1,753.6 1136.7,750.5 1139.3,747.4 1141.9,744.3 1144.6,741.1 1147.2,738.0 1149.8,734.8 1152.4,731.7 1155.0,728.6 1157.6,725.5 1160.2,722.3 1162.8,719.3 1165.4,716.2 1168.0,713.1 1170.6,710.1 1173.2,707.1 1175.8,704.2 1178.4,701.3 1181.1,698.4 1183.7,695.6 1186.3,692.8 1188.9,690.1 1191.5,687.4 1194.1,684.7 1196.7,682.2 1199.3,679.6 1201.9,677.2 1204.5,674.8 1207.1,672.4 1209.7,670.1 1212.3,667.9 1215.0,665.7 1217.6,663.6 1220.2,661.5 1222.8,659.5 1225.4,657.6 1228.0,655.7 1230.6,653.9 1233.2,652.1 1235.8,650.4 1238.4,648.8 1241.0,647.2 1243.6,645.7 1246.2,644.2 1248.9,642.7 1251.5,641.4 1254.1,640.0 1256.7,638.8 1259.3,637.5 1261.9,636.3 1264.5,635.2 1267.1,634.1 1269.7,633.1 1272.3,632.0 1274.9,631.1 1277.5,630.1 1280.1,629.3 1282.8,628.4 1285.4,627.6 1288.0,626.8 1290.6,626.0 1293.2,625.3 1295.8,624.6 1298.4,624.0 1301.0,623.3 1303.6,622.7 1306.2,622.2 1308.8,621.6 1311.4,621.1 1314.0,620.6 1316.6,620.1 1319.3,619.6 1321.9,619.2 1324.5,618.8 1327.1,618.4 1329.7,618.0 1332.3,617.6 1334.9,617.3 1337.5,616.9 1340.1,616.6 1342.7,616.3 1345.3,616.0 1347.9,615.8 1350.5,615.5 1353.2,615.2 1355.8,615.0 1358.4,614.8 1361.0,614.6 1363.6,614.4 1366.2,614.2 1368.8,614.0 1371.4,613.8 1374.0,613.6 1376.6,613.5 1379.2,613.3 1381.8,613.2 1384.4,613.0 1387.1,612.9 1389.7,612.7 1392.3,612.6 1394.9,612.5 1397.5,612.4 1400.1,612.3 1402.7,612.2 1405.3,612.1 1407.9,612.0 1410.5,611.9 1413.1,611.8 1415.7,611.8 1418.3,611.7 1420.9,611.6 1423.6,611.5 1426.2,611.5 1428.8,611.4 1431.4,611.4 1434.0,611.3 1436.6,611.2 1439.2,611.2 1441.8,611.1 1444.4,611.1 1447.0,611.1 1449.6,611.0 1452.2,611.0 1454.8,610.9 1457.5,610.9 1460.1,610.9 1462.7,610.8 1465.3,610.8 1467.9,610.8 1470.5,610.8 1473.1,610.7" fill="none" stroke="#000" stroke-width="2.0" stroke-linejoin="round" stroke-linecap="round"/>
<polyline points="849.9,864.1 852.5,864.1 855.1,864.1 857.7,864.1 860.3,864.0 862.9,864.0 865.5,864.0 868.2,864.0 870.8,864.0 873.4,864.0 876.0,864.0 878.6,864.0 881.2,863.9 883.8,863.9 886.4,863.9 889.0,863.9 891.6,863.9 894.2,863.8 896.8,863.8 899.4,863.8 902.1,863.8 904.7,863.7 907.3,863.7 909.9,863.7 912.5,863.7 915.1,863.6 917.7,863.6 920.3,863.6 922.9,863.5 925.5,863.5 928.1,863.4 930.7,863.4 933.3,863.3 935.9,863.3 938.6,863.2 941.2,863.2 943.8,863.1 946.4,863.1 949.0,863.0 951.6,862.9 954.2,862.9 956.8,862.8 959.4,862.7 962.0,862.6 964.6,862.5 967.2,862.4 969.8,862.3 972.5,862.2 975.1,862.1 977.7,862.0 980.3,861.9 982.9,861.8 985.5,861.6 988.1,861.5 990.7,861.3 993.3,861.2 995.9,861.0 998.5,860.8 1001.1,860.6 1003.7,860.5 1006.4,860.2 1009.0,860.0 1011.6,859.8 1014.2,859.6 1016.8,859.3 1019.4,859.1 1022.0,858.8 1024.6,858.5 1027.2,858.2 1029.8,857.8 1032.4,857.5 1035.0,857.1 1037.6,856.8 1040.2,856.4 1042.9,856.0 1045.5,855.5 1048.1,855.1 1050.7,854.6 1053.3,854.1 1055.9,853.5 1058.5,853.0 1061.1,852.4 1063.7,851.8 1066.3,851.1 1068.9,850.4 1071.5,849.7 1074.1,849.0 1076.8,848.2 1079.4,847.4 1082.0,846.5 1084.6,845.6 1087.2,844.7 1089.8,843.7 1092.4,842.7 1095.0,841.6 1097.6,840.5 1100.2,839.3 1102.8,838.1 1105.4,836.8 1108.0,835.4 1110.7,834.1 1113.3,832.6 1115.9,831.1 1118.5,829.5 1121.1,827.9 1123.7,826.2 1126.3,824.5 1128.9,822.6 1131.5,820.7 1134.1,818.8 1136.7,816.8 1139.3,814.7 1141.9,812.5 1144.6,810.3 1147.2,808.0 1149.8,805.6 1152.4,803.2 1155.0,800.7 1157.6,798.1 1160.2,795.4 1162.8,792.7 1165.4,790.0 1168.0,787.1 1170.6,784.2 1173.2,781.3 1175.8,778.3 1178.4,775.2 1181.1,772.1 1183.7,769.0 1186.3,765.8 1188.9,762.5 1191.5,759.3 1194.1,756.0 1196.7,752.7 1199.3,749.3 1201.9,745.9 1204.5,742.6 1207.1,739.2 1209.7,735.8 1212.3,732.4 1215.0,729.0 1217.6,725.7 1220.2,722.3 1222.8,719.0 1225.4,715.7 1228.0,712.4 1230.6,709.2 1233.2,706.0 1235.8,702.8 1238.4,699.7 1241.0,696.6 1243.6,693.6 1246.2,690.7 1248.9,687.8 1251.5,684.9 1254.1,682.1 1256.7,679.4 1259.3,676.8 1261.9,674.2 1264.5,671.7 1267.1,669.2 1269.7,666.8 1272.3,664.5 1274.9,662.3 1277.5,660.1 1280.1,658.0 1282.8,656.0 1285.4,654.0 1288.0,652.1 1290.6,650.3 1293.2,648.5 1295.8,646.8 1298.4,645.2 1301.0,643.6 1303.6,642.1 1306.2,640.6 1308.8,639.2 1311.4,637.9 1314.0,636.6 1316.6,635.4 1319.3,634.2 1321.9,633.0 1324.5,632.0 1327.1,630.9 1329.7,629.9 1332.3,629.0 1334.9,628.1 1337.5,627.2 1340.1,626.4 1342.7,625.6 1345.3,624.8 1347.9,624.1 1350.5,623.4 1353.2,622.8 1355.8,622.2 1358.4,621.6 1361.0,621.0 1363.6,620.5 1366.2,619.9 1368.8,619.5 1371.4,619.0 1374.0,618.6 1376.6,618.1 1379.2,617.7 1381.8,617.4 1384.4,617.0 1387.1,616.6 1389.7,616.3 1392.3,616.0 1394.9,615.7 1397.5,615.4 1400.1,615.2 1402.7,614.9 1405.3,614.7 1407.9,614.4 1410.5,614.2 1413.1,614.0 1415.7,613.8 1418.3,613.6 1420.9,613.5 1423.6,613.3 1426.2,613.1 1428.8,613.0 1431.4,612.8 1434.0,612.7 1436.6,612.6 1439.2,612.5 1441.8,612.3 1444.4,612.2 1447.0,612.1 1449.6,612.0 1452.2,611.9 1454.8,611.8 1457.5,611.8 1460.1,611.7 1462.7,611.6 1465.3,611.5 1467.9,611.5 1470.5,611.4 1473.1,611.3" fill="none" stroke="#000" stroke-width="2.0" stroke-linejoin="round" stroke-linecap="round"/>
<line x1="849.90" y1="855.50" x2="849.90" y2="866.00" stroke="#000" stroke-width="1.9"/>
<line x1="844.20" y1="855.50" x2="855.60" y2="855.50" stroke="#000" stroke-width="1.9"/>
<line x1="844.20" y1="866.00" x2="855.60" y2="866.00" stroke="#000" stroke-width="1.9"/>
<line x1="1005.70" y1="842.20" x2="1005.70" y2="860.50" stroke="#000" stroke-width="1.9"/>
<line x1="1000.00" y1="842.20" x2="1011.40" y2="842.20" stroke="#000" stroke-width="1.9"/>
<line x1="1000.00" y1="860.50" x2="1011.40" y2="860.50" stroke="#000" stroke-width="1.9"/>
<line x1="1099.50" y1="780.80" x2="1099.50" y2="802.50" stroke="#000" stroke-width="1.9"/>
<line x1="1093.80" y1="780.80" x2="1105.20" y2="780.80" stroke="#000" stroke-width="1.9"/>
<line x1="1093.80" y1="802.50" x2="1105.20" y2="802.50" stroke="#000" stroke-width="1.9"/>
<line x1="1161.50" y1="705.00" x2="1161.50" y2="725.40" stroke="#000" stroke-width="1.9"/>
<line x1="1155.80" y1="705.00" x2="1167.20" y2="705.00" stroke="#000" stroke-width="1.9"/>
<line x1="1155.80" y1="725.40" x2="1167.20" y2="725.40" stroke="#000" stroke-width="1.9"/>
<line x1="1099.50" y1="837.60" x2="1099.50" y2="854.30" stroke="#000" stroke-width="1.9"/>
<line x1="1093.80" y1="837.60" x2="1105.20" y2="837.60" stroke="#000" stroke-width="1.9"/>
<line x1="1093.80" y1="854.30" x2="1105.20" y2="854.30" stroke="#000" stroke-width="1.9"/>
<line x1="1161.50" y1="774.10" x2="1161.50" y2="808.10" stroke="#000" stroke-width="1.9"/>
<line x1="1155.80" y1="774.10" x2="1167.20" y2="774.10" stroke="#000" stroke-width="1.9"/>
<line x1="1155.80" y1="808.10" x2="1167.20" y2="808.10" stroke="#000" stroke-width="1.9"/>
<line x1="1317.30" y1="606.70" x2="1317.30" y2="660.70" stroke="#000" stroke-width="1.9"/>
<line x1="1311.60" y1="606.70" x2="1323.00" y2="606.70" stroke="#000" stroke-width="1.9"/>
<line x1="1311.60" y1="660.70" x2="1323.00" y2="660.70" stroke="#000" stroke-width="1.9"/>
<line x1="1317.30" y1="617.40" x2="1317.30" y2="657.90" stroke="#000" stroke-width="1.9"/>
<line x1="1311.60" y1="617.40" x2="1323.00" y2="617.40" stroke="#000" stroke-width="1.9"/>
<line x1="1311.60" y1="657.90" x2="1323.00" y2="657.90" stroke="#000" stroke-width="1.9"/>
<line x1="1364.20" y1="598.80" x2="1364.20" y2="634.40" stroke="#000" stroke-width="1.9"/>
<line x1="1358.50" y1="598.80" x2="1369.90" y2="598.80" stroke="#000" stroke-width="1.9"/>
<line x1="1358.50" y1="634.40" x2="1369.90" y2="634.40" stroke="#000" stroke-width="1.9"/>
<line x1="1426.20" y1="593.20" x2="1426.20" y2="622.10" stroke="#000" stroke-width="1.9"/>
<line x1="1420.50" y1="593.20" x2="1431.90" y2="593.20" stroke="#000" stroke-width="1.9"/>
<line x1="1420.50" y1="622.10" x2="1431.90" y2="622.10" stroke="#000" stroke-width="1.9"/>
<circle cx="849.90" cy="859.80" r="5.6" fill="none" stroke="#000" stroke-width="1.9"/>
<circle cx="1005.70" cy="852.20" r="5.6" fill="none" stroke="#000" stroke-width="1.9"/>
<circle cx="1099.50" cy="791.25" r="5.6" fill="none" stroke="#000" stroke-width="1.9"/>
<circle cx="1161.50" cy="715.20" r="5.6" fill="none" stroke="#000" stroke-width="1.9"/>
<circle cx="1317.30" cy="637.20" r="5.6" fill="none" stroke="#000" stroke-width="1.9"/>
<circle cx="1364.20" cy="611.60" r="5.6" fill="none" stroke="#000" stroke-width="1.9"/>
<circle cx="1426.20" cy="603.50" r="5.6" fill="none" stroke="#000" stroke-width="1.9"/>
<circle cx="849.90" cy="858.90" r="6.0" fill="#000"/>
<circle cx="1005.70" cy="855.30" r="6.0" fill="#000"/>
<circle cx="1099.50" cy="845.90" r="6.0" fill="#000"/>
<circle cx="1161.50" cy="791.10" r="6.0" fill="#000"/>
<circle cx="1317.30" cy="633.80" r="6.0" fill="#000"/>
<circle cx="1364.20" cy="624.20" r="6.0" fill="#000"/>
<circle cx="1426.20" cy="607.80" r="6.0" fill="#000"/>
<circle cx="1260.3" cy="772.6" r="5.6" fill="none" stroke="#000" stroke-width="1.8"/>
<circle cx="1260.2" cy="804.9" r="5.8" fill="#000"/>
<text transform="translate(1.42,32.90) scale(1.0207,1.0)" font-size="43.5" font-weight="bold">A</text>
<text transform="translate(654.57,33.20) scale(0.9298,1.0)" font-size="43.5" font-weight="bold">C</text>
<text transform="translate(2.75,495.00) scale(0.9509,1.0)" font-size="43.5" font-weight="bold">B</text>
<text transform="translate(654.85,495.00) scale(0.9509,1.0)" font-size="43.5" font-weight="bold">D</text>
<text transform="translate(54.09,94.10) scale(1.0055,1.05)" font-size="27.0" font-weight="bold">CAP</text>
<text transform="translate(154.75,60.30) scale(1.0035,1.05)" font-size="27.0" font-weight="bold">CAP+</text>
<text transform="translate(154.75,92.60) scale(0.9962,1.05)" font-size="27.0" font-weight="bold">0.02µM C9</text>
<text transform="translate(332.40,60.30) scale(0.9993,1.05)" font-size="27.0" font-weight="bold">CAP+</text>
<text transform="translate(332.40,92.60) scale(1.0032,1.05)" font-size="27.0" font-weight="bold">2µM C9</text>
<text transform="translate(502.80,60.30) scale(0.9901,1.05)" font-size="27.0" font-weight="bold">Wash+</text>
<text transform="translate(501.81,92.60) scale(0.9945,1.05)" font-size="27.0" font-weight="bold">CAP</text>
<text transform="translate(713.55,94.00) scale(0.9983,1.05)" font-size="27.0" font-weight="bold">1µM CAP</text>
<text transform="translate(873.04,60.20) scale(1.0054,1.05)" font-size="27.0" font-weight="bold">1µM CAP+</text>
<text transform="translate(873.31,92.80) scale(0.9931,1.05)" font-size="27.0" font-weight="bold">0.1µM C9</text>
<text transform="translate(1058.19,94.00) scale(1.0065,1.05)" font-size="27.0" font-weight="bold">20µM CAP</text>
<text transform="translate(1243.00,60.20) scale(0.9983,1.05)" font-size="27.0" font-weight="bold">20µM CAP+</text>
<text transform="translate(1243.00,92.80) scale(0.9957,1.05)" font-size="27.0" font-weight="bold">0.1µM C9</text>
<text transform="translate(544.11,336.30) scale(1.0292,1.015)" font-size="26.7">2nA</text>
<text transform="translate(602.39,379.00) scale(1.0025,1.015)" font-size="26.7">10s</text>
<text transform="translate(1342.72,396.30) scale(1.0249,1.015)" font-size="26.7">2nA</text>
<text transform="translate(1400.89,439.00) scale(1.0025,1.015)" font-size="26.7">10s</text>
<text transform="translate(212.60,951.00) scale(1.0011,1.05)" font-size="27.0" font-weight="bold">Concentration of C9 (µM)</text>
<text transform="translate(966.40,948.50) scale(0.9978,1.05)" font-size="27.0" font-weight="bold">Concentration of CAP (µM)</text>
<text transform="translate(1272.24,782.00) scale(1.0048,1.015)" font-size="26.7">CAP</text>
<text transform="translate(1272.93,814.40) scale(1.0155,1.015)" font-size="26.7">CAP+0.1µM C9</text>
<text transform="translate(111.83,918.20) scale(0.9703,1.015)" font-size="26.7">0.0001</text>
<text transform="translate(201.03,918.20) scale(0.9674,1.015)" font-size="26.7">0.001</text>
<text transform="translate(291.13,918.20) scale(0.9668,1.015)" font-size="26.7">0.01</text>
<text transform="translate(378.75,918.20) scale(0.9525,1.015)" font-size="26.7">0.1</text>
<text transform="translate(470.25,918.20) scale(1.0000,1.015)" font-size="26.7">1</text>
<text transform="translate(545.39,918.20) scale(1.0038,1.015)" font-size="26.7">10</text>
<text transform="translate(613.37,918.20) scale(1.0145,1.015)" font-size="26.7">100</text>
<text transform="translate(824.72,918.60) scale(0.9849,1.015)" font-size="26.7">0.01</text>
<text transform="translate(984.49,918.60) scale(0.9500,1.015)" font-size="26.7">0.1</text>
<text transform="translate(1155.50,918.60) scale(1.0000,1.015)" font-size="26.7">1</text>
<text transform="translate(1302.78,918.60) scale(1.0113,1.015)" font-size="26.7">10</text>
<text transform="translate(1450.48,918.60) scale(1.0096,1.015)" font-size="26.7">100</text>
<text transform="translate(129.55,886.40) scale(1,1.015)" font-size="26.7">0</text>
<text transform="translate(115.30,800.72) scale(1,1.015)" font-size="26.7">20</text>
<text transform="translate(115.60,715.04) scale(1,1.015)" font-size="26.7">40</text>
<text transform="translate(116.20,629.36) scale(1,1.015)" font-size="26.7">60</text>
<text transform="translate(116.90,543.68) scale(1,1.015)" font-size="26.7">80</text>
<text transform="translate(808.35,880.40) scale(1,1.015)" font-size="26.7">0</text>
<text transform="translate(783.00,824.43) scale(1,1.015)" font-size="26.7">0.5</text>
<text transform="translate(783.00,768.47) scale(1,1.015)" font-size="26.7">1.0</text>
<text transform="translate(783.00,712.50) scale(1,1.015)" font-size="26.7">1.5</text>
<text transform="translate(783.80,656.54) scale(1,1.015)" font-size="26.7">2.0</text>
<text transform="translate(783.80,600.57) scale(1,1.015)" font-size="26.7">2.5</text>
<text transform="translate(783.80,544.61) scale(1,1.015)" font-size="26.7">3.0</text>
<text transform="translate(66.00,876.05) rotate(-90) scale(1.0010,1.015)" font-size="27.0" font-weight="bold">Inhibition rate of C9 on</text>
<text transform="translate(94.60,944.52) rotate(-90) scale(1.0158,1.015)" font-size="27.0" font-weight="bold">CAP-induced  TRPV1 currents(%)</text>
<text transform="translate(740.00,885.97) rotate(-90) scale(1.0138,1.015)" font-size="27.0" font-weight="bold">Normalized CAP-induced</text>
<text transform="translate(767.40,811.95) rotate(-90) scale(1.0032,1.015)" font-size="27.0" font-weight="bold">TRPV1 currents</text>
</svg></body></html>
